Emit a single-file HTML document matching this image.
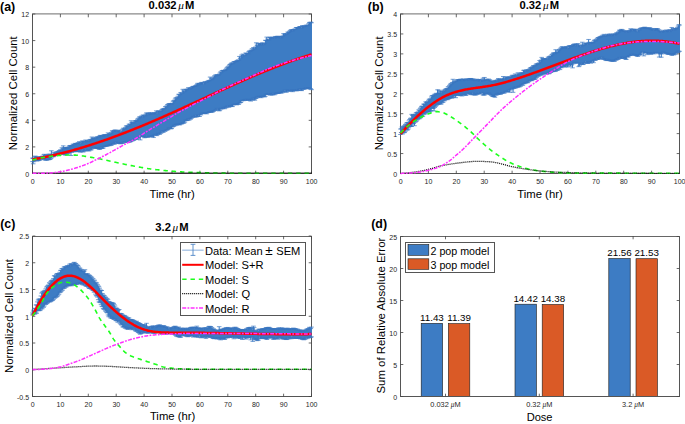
<!DOCTYPE html>
<html><head><meta charset="utf-8"><style>html,body{margin:0;padding:0;background:#fff;width:685px;height:424px;overflow:hidden}</style></head>
<body><svg width="685" height="424" viewBox="0 0 685 424" style="display:block">
<rect width="685" height="424" fill="#fff"/>
<g style='font-family:"Liberation Sans", sans-serif'>
<defs><clipPath id="ca"><rect x="29.6" y="13.5" width="285" height="162"/></clipPath><clipPath id="cb"><rect x="397.6" y="13.5" width="285" height="162"/></clipPath><clipPath id="cc"><rect x="29.6" y="235.5" width="285" height="163"/></clipPath></defs>
<path d="M32.5,174V14M32,173.5H312M311.5,174V14" stroke="#555" stroke-width="1" fill="none"/>
<path d="M32,13.9H312" stroke="#8a8a8a" stroke-width="1.3" fill="none"/>
<path d="M32.50,173.5v-2.8M32.50,14v3.3M60.40,173.5v-2.8M60.40,14v3.3M88.30,173.5v-2.8M88.30,14v3.3M116.20,173.5v-2.8M116.20,14v3.3M144.10,173.5v-2.8M144.10,14v3.3M172.00,173.5v-2.8M172.00,14v3.3M199.90,173.5v-2.8M199.90,14v3.3M227.80,173.5v-2.8M227.80,14v3.3M255.70,173.5v-2.8M255.70,14v3.3M283.60,173.5v-2.8M283.60,14v3.3M311.50,173.5v-2.8M311.50,14v3.3M32.5,173.50h2.8M311.5,173.50h-2.8M32.5,146.92h2.8M311.5,146.92h-2.8M32.5,120.33h2.8M311.5,120.33h-2.8M32.5,93.75h2.8M311.5,93.75h-2.8M32.5,67.17h2.8M311.5,67.17h-2.8M32.5,40.58h2.8M311.5,40.58h-2.8M32.5,14.00h2.8M311.5,14.00h-2.8" stroke="#444" stroke-width="0.8" fill="none"/>
<text x="32.60" y="184.10" font-size="7" text-anchor="middle" fill="#262626">0</text>
<text x="60.50" y="184.10" font-size="7" text-anchor="middle" fill="#262626">10</text>
<text x="88.40" y="184.10" font-size="7" text-anchor="middle" fill="#262626">20</text>
<text x="116.30" y="184.10" font-size="7" text-anchor="middle" fill="#262626">30</text>
<text x="144.20" y="184.10" font-size="7" text-anchor="middle" fill="#262626">40</text>
<text x="172.10" y="184.10" font-size="7" text-anchor="middle" fill="#262626">50</text>
<text x="200.00" y="184.10" font-size="7" text-anchor="middle" fill="#262626">60</text>
<text x="227.90" y="184.10" font-size="7" text-anchor="middle" fill="#262626">70</text>
<text x="255.80" y="184.10" font-size="7" text-anchor="middle" fill="#262626">80</text>
<text x="283.70" y="184.10" font-size="7" text-anchor="middle" fill="#262626">90</text>
<text x="311.60" y="184.10" font-size="7" text-anchor="middle" fill="#262626">100</text>
<text x="29.10" y="176.80" font-size="7" text-anchor="end" fill="#262626">0</text>
<text x="29.10" y="150.22" font-size="7" text-anchor="end" fill="#262626">2</text>
<text x="29.10" y="123.63" font-size="7" text-anchor="end" fill="#262626">4</text>
<text x="29.10" y="97.05" font-size="7" text-anchor="end" fill="#262626">6</text>
<text x="29.10" y="70.47" font-size="7" text-anchor="end" fill="#262626">8</text>
<text x="29.10" y="43.88" font-size="7" text-anchor="end" fill="#262626">10</text>
<text x="29.10" y="17.30" font-size="7" text-anchor="end" fill="#262626">12</text>
<g clip-path="url(#ca)">
<path d="M32.50,158.09V161.62M33.20,158.57V163.81M33.90,158.07V161.69M34.60,156.71V160.15M35.30,156.07V159.40M36.00,156.95V160.15M36.70,157.37V160.85M37.39,157.27V160.71M38.09,156.96V160.67M38.79,157.41V160.28M39.49,157.24V160.28M40.19,157.36V159.74M40.89,156.63V159.04M41.59,157.08V159.07M42.29,156.29V158.24M42.99,157.09V158.80M43.69,154.93V157.95M44.39,154.30V159.36M45.09,156.08V160.12M45.79,155.45V159.69M46.48,154.97V160.13M47.18,155.18V159.91M47.88,155.03V159.38M48.58,154.29V159.74M49.28,154.29V159.57M49.98,154.26V159.41M50.68,154.93V158.74M51.38,150.75V158.00M52.08,154.59V156.85M52.78,154.53V156.51M53.48,154.09V156.76M54.18,152.30V156.32M54.88,153.11V155.17M55.58,153.28V154.50M56.27,152.05V154.49M56.97,152.18V154.01M57.67,151.72V153.72M58.37,151.52V153.47M59.07,150.53V153.22M59.77,150.89V153.00M60.47,149.69V152.74M61.17,150.42V152.65M61.87,147.81V153.32M62.57,148.96V153.43M63.27,145.87V154.58M63.97,148.15V154.11M64.67,148.08V154.08M65.36,147.44V154.98M66.06,147.46V154.89M66.76,147.70V154.02M67.46,147.53V153.41M68.16,147.71V153.34M68.86,146.25V152.36M69.56,145.90V152.16M70.26,145.46V151.17M70.96,145.71V155.53M71.66,145.72V152.35M72.36,145.37V151.66M73.06,144.11V151.59M73.76,144.60V150.65M74.45,144.46V151.69M75.15,143.36V151.63M75.85,143.52V151.59M76.55,143.58V151.28M77.25,143.27V151.33M77.95,143.02V150.87M78.65,142.64V151.16M79.35,141.64V151.56M80.05,144.10V152.00M80.75,142.71V151.80M81.45,142.74V150.66M82.15,141.03V149.58M82.85,141.14V151.86M83.55,141.56V151.73M84.24,141.40V150.39M84.94,142.18V151.00M85.64,140.01V149.14M86.34,141.33V149.95M87.04,140.79V150.59M87.74,140.66V149.89M88.44,141.16V150.77M89.14,141.02V150.88M89.84,139.56V149.64M90.54,139.37V149.86M91.24,139.65V149.89M91.94,137.02V148.73M92.64,138.31V148.16M93.33,138.76V147.40M94.03,138.39V147.28M94.73,137.73V147.95M95.43,138.72V148.11M96.13,137.87V148.01M96.83,136.90V148.45M97.53,137.06V148.23M98.23,137.21V147.90M98.93,136.55V149.04M99.63,136.01V149.40M100.33,135.37V148.66M101.03,135.56V147.00M101.73,136.16V148.49M102.42,135.88V147.95M103.12,135.55V148.25M103.82,134.84V146.79M104.52,134.83V146.53M105.22,134.74V146.32M105.92,135.70V146.02M106.62,135.15V145.99M107.32,134.68V145.88M108.02,132.92V145.70M108.72,134.38V145.16M109.42,133.85V145.72M110.12,133.96V144.54M110.82,133.19V145.36M111.52,132.42V145.08M112.21,130.75V144.19M112.91,131.44V143.40M113.61,131.13V143.53M114.31,130.53V144.33M115.01,129.87V142.91M115.71,130.78V141.88M116.41,131.17V143.06M117.11,131.23V143.56M117.81,130.89V142.42M118.51,130.84V142.63M119.21,130.12V143.15M119.91,131.89V143.39M120.61,132.19V143.84M121.30,131.70V143.23M122.00,130.14V142.80M122.70,129.20V143.53M123.40,128.20V142.11M124.10,129.02V142.02M124.80,128.38V141.72M125.50,127.45V142.19M126.20,125.91V142.11M126.90,126.17V140.99M127.60,125.85V142.66M128.30,126.00V142.43M129.00,124.10V141.55M129.70,124.54V141.97M130.39,124.07V141.77M131.09,120.78V141.46M131.79,122.53V139.74M132.49,123.30V140.85M133.19,122.50V139.82M133.89,123.01V140.40M134.59,121.40V139.18M135.29,120.75V139.00M135.99,120.55V138.97M136.69,120.80V139.42M137.39,119.23V138.44M138.09,118.83V137.97M138.79,118.09V137.46M139.48,116.88V136.47M140.18,117.28V139.88M140.88,116.80V136.69M141.58,115.95V136.28M142.28,117.44V136.46M142.98,115.07V136.47M143.68,115.22V136.54M144.38,115.90V137.78M145.08,115.73V137.37M145.78,114.23V136.72M146.48,112.90V135.84M147.18,113.34V137.05M147.88,114.87V136.96M148.58,113.06V137.11M149.27,113.39V136.60M149.97,113.99V136.50M150.67,112.48V135.94M151.37,113.67V136.34M152.07,113.86V136.59M152.77,113.85V135.99M153.47,113.43V137.54M154.17,112.86V135.07M154.87,112.75V135.02M155.57,112.71V134.31M156.27,110.89V135.05M156.97,113.87V135.63M157.67,111.76V134.42M158.36,110.99V133.31M159.06,111.00V134.09M159.76,111.68V134.20M160.46,111.45V133.22M161.16,110.80V133.01M161.86,109.60V130.90M162.56,109.07V131.50M163.26,109.12V132.48M163.96,108.60V130.55M164.66,108.40V131.33M165.36,106.61V130.99M166.06,107.03V130.17M166.76,105.85V129.95M167.45,104.67V129.71M168.15,104.68V129.68M168.85,103.52V127.97M169.55,103.92V128.47M170.25,104.25V128.23M170.95,103.45V128.86M171.65,104.31V128.54M172.35,103.25V127.09M173.05,101.20V126.54M173.75,100.81V126.18M174.45,100.27V124.99M175.15,98.95V125.79M175.85,97.72V124.47M176.55,98.25V125.14M177.24,97.36V124.36M177.94,96.26V124.41M178.64,94.27V124.31M179.34,94.76V124.93M180.04,94.27V124.63M180.74,92.46V123.49M181.44,93.27V124.01M182.14,93.28V123.61M182.84,89.32V122.80M183.54,90.95V123.20M184.24,91.65V122.80M184.94,90.73V121.96M185.64,89.34V120.17M186.33,89.73V120.45M187.03,89.44V120.59M187.73,88.96V119.86M188.43,87.66V118.63M189.13,89.13V120.19M189.83,88.24V118.72M190.53,88.52V119.24M191.23,87.63V118.44M191.93,87.21V117.68M192.63,86.70V117.23M193.33,86.39V116.28M194.03,86.40V116.89M194.73,86.40V116.92M195.42,85.81V115.35M196.12,85.55V117.02M196.82,84.56V116.66M197.52,83.36V116.34M198.22,84.72V116.23M198.92,83.38V114.55M199.62,83.89V116.44M200.32,83.51V114.68M201.02,82.88V114.79M201.72,82.36V113.39M202.42,82.76V113.07M203.12,84.44V113.65M203.82,83.47V113.46M204.52,82.15V113.38M205.21,81.69V113.02M205.91,82.24V113.17M206.61,82.27V113.83M207.31,81.36V112.75M208.01,81.17V112.54M208.71,80.42V112.29M209.41,80.62V111.85M210.11,77.08V112.18M210.81,79.95V111.89M211.51,78.64V111.41M212.21,78.97V112.39M212.91,77.98V111.37M213.61,77.29V111.19M214.30,76.04V110.59M215.00,75.94V110.55M215.70,74.77V109.67M216.40,75.62V109.66M217.10,74.77V108.46M217.80,75.13V109.06M218.50,75.06V110.22M219.20,74.33V110.88M219.90,73.07V110.19M220.60,71.91V108.83M221.30,72.23V108.91M222.00,70.65V108.28M222.70,70.74V108.65M223.39,70.30V107.41M224.09,70.53V107.89M224.79,70.47V108.72M225.49,69.59V107.08M226.19,68.83V107.81M226.89,67.75V106.77M227.59,67.00V105.79M228.29,66.88V106.66M228.99,65.74V107.24M229.69,64.59V105.49M230.39,64.30V106.51M231.09,63.60V105.60M231.79,62.75V106.18M232.48,63.70V106.58M233.18,62.99V104.96M233.88,61.59V104.52M234.58,61.80V104.15M235.28,61.43V104.40M235.98,61.68V104.48M236.68,60.66V104.87M237.38,60.76V104.15M238.08,59.83V103.74M238.78,60.46V104.38M239.48,56.45V102.93M240.18,58.49V102.62M240.88,57.35V102.47M241.58,55.03V100.89M242.27,56.20V100.61M242.97,54.07V99.92M243.67,55.07V100.65M244.37,55.67V100.17M245.07,55.09V99.57M245.77,52.93V99.27M246.47,53.48V100.41M247.17,53.50V99.34M247.87,53.80V99.97M248.57,51.87V100.19M249.27,50.97V99.77M249.97,51.51V100.15M250.67,50.35V101.07M251.36,50.25V99.88M252.06,48.66V98.84M252.76,49.81V99.98M253.46,47.58V98.01M254.16,48.20V99.41M254.86,48.87V100.18M255.56,46.95V98.45M256.26,42.82V98.40M256.96,45.21V96.70M257.66,45.77V97.49M258.36,43.43V96.24M259.06,44.23V96.73M259.76,43.29V97.03M260.45,43.81V96.74M261.15,45.08V97.69M261.85,43.72V96.24M262.55,42.72V96.55M263.25,44.57V96.70M263.95,43.55V96.06M264.65,43.37V96.89M265.35,40.30V96.25M266.05,40.48V94.24M266.75,37.12V94.62M267.45,39.00V94.28M268.15,39.75V93.59M268.85,39.72V94.16M269.55,37.29V94.14M270.24,37.56V95.05M270.94,37.86V94.80M271.64,37.05V94.28M272.34,38.48V94.96M273.04,37.64V93.12M273.74,37.48V94.14M274.44,38.43V94.80M275.14,36.45V93.82M275.84,37.24V93.79M276.54,36.64V92.91M277.24,36.40V93.44M277.94,36.27V93.43M278.64,37.33V93.00M279.33,36.46V92.98M280.03,37.34V92.39M280.73,37.98V92.97M281.43,36.58V92.77M282.13,36.39V92.80M282.83,35.91V91.81M283.53,33.66V91.85M284.23,35.12V91.49M284.93,34.01V89.88M285.63,34.11V90.86M286.33,34.18V92.35M287.03,33.47V91.20M287.73,32.09V90.33M288.42,32.50V91.11M289.12,31.76V89.75M289.82,30.90V91.14M290.52,30.25V90.55M291.22,29.85V90.20M291.92,29.72V90.82M292.62,30.97V91.67M293.32,29.71V90.63M294.02,29.32V90.24M294.72,29.18V90.32M295.42,29.11V90.69M296.12,27.55V89.85M296.82,27.49V90.86M297.52,28.03V90.44M298.21,27.44V90.45M298.91,27.79V89.68M299.61,26.50V89.02M300.31,26.59V88.96M301.01,28.19V90.39M301.71,27.60V90.63M302.41,25.51V88.83M303.11,26.59V89.34M303.81,26.36V89.04M304.51,26.52V88.94M305.21,25.91V88.67M305.91,25.29V87.86M306.61,25.23V88.21M307.30,25.61V88.06M308.00,25.06V88.75M308.70,23.70V88.06M309.40,22.41V87.90M310.10,22.68V89.03M310.80,22.10V88.77M311.50,22.79V89.66" stroke="#3d7cc4" stroke-width="1.05" fill="none"/>
<path d="M30.20,158.09h4.6M30.20,161.62h4.6M30.90,158.57h4.6M30.90,163.81h4.6M31.60,158.07h4.6M31.60,161.69h4.6M32.30,156.71h4.6M32.30,160.15h4.6M33.00,156.07h4.6M33.00,159.40h4.6M33.70,156.95h4.6M33.70,160.15h4.6M34.40,157.37h4.6M34.40,160.85h4.6M35.09,157.27h4.6M35.09,160.71h4.6M35.79,156.96h4.6M35.79,160.67h4.6M36.49,157.41h4.6M36.49,160.28h4.6M37.19,157.24h4.6M37.19,160.28h4.6M37.89,157.36h4.6M37.89,159.74h4.6M38.59,156.63h4.6M38.59,159.04h4.6M39.29,157.08h4.6M39.29,159.07h4.6M39.99,156.29h4.6M39.99,158.24h4.6M40.69,157.09h4.6M40.69,158.80h4.6M41.39,154.93h4.6M41.39,157.95h4.6M42.09,154.30h4.6M42.09,159.36h4.6M42.79,156.08h4.6M42.79,160.12h4.6M43.49,155.45h4.6M43.49,159.69h4.6M44.18,154.97h4.6M44.18,160.13h4.6M44.88,155.18h4.6M44.88,159.91h4.6M45.58,155.03h4.6M45.58,159.38h4.6M46.28,154.29h4.6M46.28,159.74h4.6M46.98,154.29h4.6M46.98,159.57h4.6M47.68,154.26h4.6M47.68,159.41h4.6M48.38,154.93h4.6M48.38,158.74h4.6M49.08,150.75h4.6M49.08,158.00h4.6M49.78,154.59h4.6M49.78,156.85h4.6M50.48,154.53h4.6M50.48,156.51h4.6M51.18,154.09h4.6M51.18,156.76h4.6M51.88,152.30h4.6M51.88,156.32h4.6M52.58,153.11h4.6M52.58,155.17h4.6M53.28,153.28h4.6M53.28,154.50h4.6M53.97,152.05h4.6M53.97,154.49h4.6M54.67,152.18h4.6M54.67,154.01h4.6M55.37,151.72h4.6M55.37,153.72h4.6M56.07,151.52h4.6M56.07,153.47h4.6M56.77,150.53h4.6M56.77,153.22h4.6M57.47,150.89h4.6M57.47,153.00h4.6M58.17,149.69h4.6M58.17,152.74h4.6M58.87,150.42h4.6M58.87,152.65h4.6M59.57,147.81h4.6M59.57,153.32h4.6M60.27,148.96h4.6M60.27,153.43h4.6M60.97,145.87h4.6M60.97,154.58h4.6M61.67,148.15h4.6M61.67,154.11h4.6M62.37,148.08h4.6M62.37,154.08h4.6M63.06,147.44h4.6M63.06,154.98h4.6M63.76,147.46h4.6M63.76,154.89h4.6M64.46,147.70h4.6M64.46,154.02h4.6M65.16,147.53h4.6M65.16,153.41h4.6M65.86,147.71h4.6M65.86,153.34h4.6M66.56,146.25h4.6M66.56,152.36h4.6M67.26,145.90h4.6M67.26,152.16h4.6M67.96,145.46h4.6M67.96,151.17h4.6M68.66,145.71h4.6M68.66,155.53h4.6M69.36,145.72h4.6M69.36,152.35h4.6M70.06,145.37h4.6M70.06,151.66h4.6M70.76,144.11h4.6M70.76,151.59h4.6M71.46,144.60h4.6M71.46,150.65h4.6M72.15,144.46h4.6M72.15,151.69h4.6M72.85,143.36h4.6M72.85,151.63h4.6M73.55,143.52h4.6M73.55,151.59h4.6M74.25,143.58h4.6M74.25,151.28h4.6M74.95,143.27h4.6M74.95,151.33h4.6M75.65,143.02h4.6M75.65,150.87h4.6M76.35,142.64h4.6M76.35,151.16h4.6M77.05,141.64h4.6M77.05,151.56h4.6M77.75,144.10h4.6M77.75,152.00h4.6M78.45,142.71h4.6M78.45,151.80h4.6M79.15,142.74h4.6M79.15,150.66h4.6M79.85,141.03h4.6M79.85,149.58h4.6M80.55,141.14h4.6M80.55,151.86h4.6M81.25,141.56h4.6M81.25,151.73h4.6M81.94,141.40h4.6M81.94,150.39h4.6M82.64,142.18h4.6M82.64,151.00h4.6M83.34,140.01h4.6M83.34,149.14h4.6M84.04,141.33h4.6M84.04,149.95h4.6M84.74,140.79h4.6M84.74,150.59h4.6M85.44,140.66h4.6M85.44,149.89h4.6M86.14,141.16h4.6M86.14,150.77h4.6M86.84,141.02h4.6M86.84,150.88h4.6M87.54,139.56h4.6M87.54,149.64h4.6M88.24,139.37h4.6M88.24,149.86h4.6M88.94,139.65h4.6M88.94,149.89h4.6M89.64,137.02h4.6M89.64,148.73h4.6M90.34,138.31h4.6M90.34,148.16h4.6M91.03,138.76h4.6M91.03,147.40h4.6M91.73,138.39h4.6M91.73,147.28h4.6M92.43,137.73h4.6M92.43,147.95h4.6M93.13,138.72h4.6M93.13,148.11h4.6M93.83,137.87h4.6M93.83,148.01h4.6M94.53,136.90h4.6M94.53,148.45h4.6M95.23,137.06h4.6M95.23,148.23h4.6M95.93,137.21h4.6M95.93,147.90h4.6M96.63,136.55h4.6M96.63,149.04h4.6M97.33,136.01h4.6M97.33,149.40h4.6M98.03,135.37h4.6M98.03,148.66h4.6M98.73,135.56h4.6M98.73,147.00h4.6M99.43,136.16h4.6M99.43,148.49h4.6M100.12,135.88h4.6M100.12,147.95h4.6M100.82,135.55h4.6M100.82,148.25h4.6M101.52,134.84h4.6M101.52,146.79h4.6M102.22,134.83h4.6M102.22,146.53h4.6M102.92,134.74h4.6M102.92,146.32h4.6M103.62,135.70h4.6M103.62,146.02h4.6M104.32,135.15h4.6M104.32,145.99h4.6M105.02,134.68h4.6M105.02,145.88h4.6M105.72,132.92h4.6M105.72,145.70h4.6M106.42,134.38h4.6M106.42,145.16h4.6M107.12,133.85h4.6M107.12,145.72h4.6M107.82,133.96h4.6M107.82,144.54h4.6M108.52,133.19h4.6M108.52,145.36h4.6M109.22,132.42h4.6M109.22,145.08h4.6M109.91,130.75h4.6M109.91,144.19h4.6M110.61,131.44h4.6M110.61,143.40h4.6M111.31,131.13h4.6M111.31,143.53h4.6M112.01,130.53h4.6M112.01,144.33h4.6M112.71,129.87h4.6M112.71,142.91h4.6M113.41,130.78h4.6M113.41,141.88h4.6M114.11,131.17h4.6M114.11,143.06h4.6M114.81,131.23h4.6M114.81,143.56h4.6M115.51,130.89h4.6M115.51,142.42h4.6M116.21,130.84h4.6M116.21,142.63h4.6M116.91,130.12h4.6M116.91,143.15h4.6M117.61,131.89h4.6M117.61,143.39h4.6M118.31,132.19h4.6M118.31,143.84h4.6M119.00,131.70h4.6M119.00,143.23h4.6M119.70,130.14h4.6M119.70,142.80h4.6M120.40,129.20h4.6M120.40,143.53h4.6M121.10,128.20h4.6M121.10,142.11h4.6M121.80,129.02h4.6M121.80,142.02h4.6M122.50,128.38h4.6M122.50,141.72h4.6M123.20,127.45h4.6M123.20,142.19h4.6M123.90,125.91h4.6M123.90,142.11h4.6M124.60,126.17h4.6M124.60,140.99h4.6M125.30,125.85h4.6M125.30,142.66h4.6M126.00,126.00h4.6M126.00,142.43h4.6M126.70,124.10h4.6M126.70,141.55h4.6M127.40,124.54h4.6M127.40,141.97h4.6M128.09,124.07h4.6M128.09,141.77h4.6M128.79,120.78h4.6M128.79,141.46h4.6M129.49,122.53h4.6M129.49,139.74h4.6M130.19,123.30h4.6M130.19,140.85h4.6M130.89,122.50h4.6M130.89,139.82h4.6M131.59,123.01h4.6M131.59,140.40h4.6M132.29,121.40h4.6M132.29,139.18h4.6M132.99,120.75h4.6M132.99,139.00h4.6M133.69,120.55h4.6M133.69,138.97h4.6M134.39,120.80h4.6M134.39,139.42h4.6M135.09,119.23h4.6M135.09,138.44h4.6M135.79,118.83h4.6M135.79,137.97h4.6M136.49,118.09h4.6M136.49,137.46h4.6M137.18,116.88h4.6M137.18,136.47h4.6M137.88,117.28h4.6M137.88,139.88h4.6M138.58,116.80h4.6M138.58,136.69h4.6M139.28,115.95h4.6M139.28,136.28h4.6M139.98,117.44h4.6M139.98,136.46h4.6M140.68,115.07h4.6M140.68,136.47h4.6M141.38,115.22h4.6M141.38,136.54h4.6M142.08,115.90h4.6M142.08,137.78h4.6M142.78,115.73h4.6M142.78,137.37h4.6M143.48,114.23h4.6M143.48,136.72h4.6M144.18,112.90h4.6M144.18,135.84h4.6M144.88,113.34h4.6M144.88,137.05h4.6M145.58,114.87h4.6M145.58,136.96h4.6M146.28,113.06h4.6M146.28,137.11h4.6M146.97,113.39h4.6M146.97,136.60h4.6M147.67,113.99h4.6M147.67,136.50h4.6M148.37,112.48h4.6M148.37,135.94h4.6M149.07,113.67h4.6M149.07,136.34h4.6M149.77,113.86h4.6M149.77,136.59h4.6M150.47,113.85h4.6M150.47,135.99h4.6M151.17,113.43h4.6M151.17,137.54h4.6M151.87,112.86h4.6M151.87,135.07h4.6M152.57,112.75h4.6M152.57,135.02h4.6M153.27,112.71h4.6M153.27,134.31h4.6M153.97,110.89h4.6M153.97,135.05h4.6M154.67,113.87h4.6M154.67,135.63h4.6M155.37,111.76h4.6M155.37,134.42h4.6M156.06,110.99h4.6M156.06,133.31h4.6M156.76,111.00h4.6M156.76,134.09h4.6M157.46,111.68h4.6M157.46,134.20h4.6M158.16,111.45h4.6M158.16,133.22h4.6M158.86,110.80h4.6M158.86,133.01h4.6M159.56,109.60h4.6M159.56,130.90h4.6M160.26,109.07h4.6M160.26,131.50h4.6M160.96,109.12h4.6M160.96,132.48h4.6M161.66,108.60h4.6M161.66,130.55h4.6M162.36,108.40h4.6M162.36,131.33h4.6M163.06,106.61h4.6M163.06,130.99h4.6M163.76,107.03h4.6M163.76,130.17h4.6M164.46,105.85h4.6M164.46,129.95h4.6M165.15,104.67h4.6M165.15,129.71h4.6M165.85,104.68h4.6M165.85,129.68h4.6M166.55,103.52h4.6M166.55,127.97h4.6M167.25,103.92h4.6M167.25,128.47h4.6M167.95,104.25h4.6M167.95,128.23h4.6M168.65,103.45h4.6M168.65,128.86h4.6M169.35,104.31h4.6M169.35,128.54h4.6M170.05,103.25h4.6M170.05,127.09h4.6M170.75,101.20h4.6M170.75,126.54h4.6M171.45,100.81h4.6M171.45,126.18h4.6M172.15,100.27h4.6M172.15,124.99h4.6M172.85,98.95h4.6M172.85,125.79h4.6M173.55,97.72h4.6M173.55,124.47h4.6M174.25,98.25h4.6M174.25,125.14h4.6M174.94,97.36h4.6M174.94,124.36h4.6M175.64,96.26h4.6M175.64,124.41h4.6M176.34,94.27h4.6M176.34,124.31h4.6M177.04,94.76h4.6M177.04,124.93h4.6M177.74,94.27h4.6M177.74,124.63h4.6M178.44,92.46h4.6M178.44,123.49h4.6M179.14,93.27h4.6M179.14,124.01h4.6M179.84,93.28h4.6M179.84,123.61h4.6M180.54,89.32h4.6M180.54,122.80h4.6M181.24,90.95h4.6M181.24,123.20h4.6M181.94,91.65h4.6M181.94,122.80h4.6M182.64,90.73h4.6M182.64,121.96h4.6M183.34,89.34h4.6M183.34,120.17h4.6M184.03,89.73h4.6M184.03,120.45h4.6M184.73,89.44h4.6M184.73,120.59h4.6M185.43,88.96h4.6M185.43,119.86h4.6M186.13,87.66h4.6M186.13,118.63h4.6M186.83,89.13h4.6M186.83,120.19h4.6M187.53,88.24h4.6M187.53,118.72h4.6M188.23,88.52h4.6M188.23,119.24h4.6M188.93,87.63h4.6M188.93,118.44h4.6M189.63,87.21h4.6M189.63,117.68h4.6M190.33,86.70h4.6M190.33,117.23h4.6M191.03,86.39h4.6M191.03,116.28h4.6M191.73,86.40h4.6M191.73,116.89h4.6M192.43,86.40h4.6M192.43,116.92h4.6M193.12,85.81h4.6M193.12,115.35h4.6M193.82,85.55h4.6M193.82,117.02h4.6M194.52,84.56h4.6M194.52,116.66h4.6M195.22,83.36h4.6M195.22,116.34h4.6M195.92,84.72h4.6M195.92,116.23h4.6M196.62,83.38h4.6M196.62,114.55h4.6M197.32,83.89h4.6M197.32,116.44h4.6M198.02,83.51h4.6M198.02,114.68h4.6M198.72,82.88h4.6M198.72,114.79h4.6M199.42,82.36h4.6M199.42,113.39h4.6M200.12,82.76h4.6M200.12,113.07h4.6M200.82,84.44h4.6M200.82,113.65h4.6M201.52,83.47h4.6M201.52,113.46h4.6M202.22,82.15h4.6M202.22,113.38h4.6M202.91,81.69h4.6M202.91,113.02h4.6M203.61,82.24h4.6M203.61,113.17h4.6M204.31,82.27h4.6M204.31,113.83h4.6M205.01,81.36h4.6M205.01,112.75h4.6M205.71,81.17h4.6M205.71,112.54h4.6M206.41,80.42h4.6M206.41,112.29h4.6M207.11,80.62h4.6M207.11,111.85h4.6M207.81,77.08h4.6M207.81,112.18h4.6M208.51,79.95h4.6M208.51,111.89h4.6M209.21,78.64h4.6M209.21,111.41h4.6M209.91,78.97h4.6M209.91,112.39h4.6M210.61,77.98h4.6M210.61,111.37h4.6M211.31,77.29h4.6M211.31,111.19h4.6M212.00,76.04h4.6M212.00,110.59h4.6M212.70,75.94h4.6M212.70,110.55h4.6M213.40,74.77h4.6M213.40,109.67h4.6M214.10,75.62h4.6M214.10,109.66h4.6M214.80,74.77h4.6M214.80,108.46h4.6M215.50,75.13h4.6M215.50,109.06h4.6M216.20,75.06h4.6M216.20,110.22h4.6M216.90,74.33h4.6M216.90,110.88h4.6M217.60,73.07h4.6M217.60,110.19h4.6M218.30,71.91h4.6M218.30,108.83h4.6M219.00,72.23h4.6M219.00,108.91h4.6M219.70,70.65h4.6M219.70,108.28h4.6M220.40,70.74h4.6M220.40,108.65h4.6M221.09,70.30h4.6M221.09,107.41h4.6M221.79,70.53h4.6M221.79,107.89h4.6M222.49,70.47h4.6M222.49,108.72h4.6M223.19,69.59h4.6M223.19,107.08h4.6M223.89,68.83h4.6M223.89,107.81h4.6M224.59,67.75h4.6M224.59,106.77h4.6M225.29,67.00h4.6M225.29,105.79h4.6M225.99,66.88h4.6M225.99,106.66h4.6M226.69,65.74h4.6M226.69,107.24h4.6M227.39,64.59h4.6M227.39,105.49h4.6M228.09,64.30h4.6M228.09,106.51h4.6M228.79,63.60h4.6M228.79,105.60h4.6M229.49,62.75h4.6M229.49,106.18h4.6M230.18,63.70h4.6M230.18,106.58h4.6M230.88,62.99h4.6M230.88,104.96h4.6M231.58,61.59h4.6M231.58,104.52h4.6M232.28,61.80h4.6M232.28,104.15h4.6M232.98,61.43h4.6M232.98,104.40h4.6M233.68,61.68h4.6M233.68,104.48h4.6M234.38,60.66h4.6M234.38,104.87h4.6M235.08,60.76h4.6M235.08,104.15h4.6M235.78,59.83h4.6M235.78,103.74h4.6M236.48,60.46h4.6M236.48,104.38h4.6M237.18,56.45h4.6M237.18,102.93h4.6M237.88,58.49h4.6M237.88,102.62h4.6M238.58,57.35h4.6M238.58,102.47h4.6M239.28,55.03h4.6M239.28,100.89h4.6M239.97,56.20h4.6M239.97,100.61h4.6M240.67,54.07h4.6M240.67,99.92h4.6M241.37,55.07h4.6M241.37,100.65h4.6M242.07,55.67h4.6M242.07,100.17h4.6M242.77,55.09h4.6M242.77,99.57h4.6M243.47,52.93h4.6M243.47,99.27h4.6M244.17,53.48h4.6M244.17,100.41h4.6M244.87,53.50h4.6M244.87,99.34h4.6M245.57,53.80h4.6M245.57,99.97h4.6M246.27,51.87h4.6M246.27,100.19h4.6M246.97,50.97h4.6M246.97,99.77h4.6M247.67,51.51h4.6M247.67,100.15h4.6M248.37,50.35h4.6M248.37,101.07h4.6M249.06,50.25h4.6M249.06,99.88h4.6M249.76,48.66h4.6M249.76,98.84h4.6M250.46,49.81h4.6M250.46,99.98h4.6M251.16,47.58h4.6M251.16,98.01h4.6M251.86,48.20h4.6M251.86,99.41h4.6M252.56,48.87h4.6M252.56,100.18h4.6M253.26,46.95h4.6M253.26,98.45h4.6M253.96,42.82h4.6M253.96,98.40h4.6M254.66,45.21h4.6M254.66,96.70h4.6M255.36,45.77h4.6M255.36,97.49h4.6M256.06,43.43h4.6M256.06,96.24h4.6M256.76,44.23h4.6M256.76,96.73h4.6M257.46,43.29h4.6M257.46,97.03h4.6M258.15,43.81h4.6M258.15,96.74h4.6M258.85,45.08h4.6M258.85,97.69h4.6M259.55,43.72h4.6M259.55,96.24h4.6M260.25,42.72h4.6M260.25,96.55h4.6M260.95,44.57h4.6M260.95,96.70h4.6M261.65,43.55h4.6M261.65,96.06h4.6M262.35,43.37h4.6M262.35,96.89h4.6M263.05,40.30h4.6M263.05,96.25h4.6M263.75,40.48h4.6M263.75,94.24h4.6M264.45,37.12h4.6M264.45,94.62h4.6M265.15,39.00h4.6M265.15,94.28h4.6M265.85,39.75h4.6M265.85,93.59h4.6M266.55,39.72h4.6M266.55,94.16h4.6M267.25,37.29h4.6M267.25,94.14h4.6M267.94,37.56h4.6M267.94,95.05h4.6M268.64,37.86h4.6M268.64,94.80h4.6M269.34,37.05h4.6M269.34,94.28h4.6M270.04,38.48h4.6M270.04,94.96h4.6M270.74,37.64h4.6M270.74,93.12h4.6M271.44,37.48h4.6M271.44,94.14h4.6M272.14,38.43h4.6M272.14,94.80h4.6M272.84,36.45h4.6M272.84,93.82h4.6M273.54,37.24h4.6M273.54,93.79h4.6M274.24,36.64h4.6M274.24,92.91h4.6M274.94,36.40h4.6M274.94,93.44h4.6M275.64,36.27h4.6M275.64,93.43h4.6M276.34,37.33h4.6M276.34,93.00h4.6M277.03,36.46h4.6M277.03,92.98h4.6M277.73,37.34h4.6M277.73,92.39h4.6M278.43,37.98h4.6M278.43,92.97h4.6M279.13,36.58h4.6M279.13,92.77h4.6M279.83,36.39h4.6M279.83,92.80h4.6M280.53,35.91h4.6M280.53,91.81h4.6M281.23,33.66h4.6M281.23,91.85h4.6M281.93,35.12h4.6M281.93,91.49h4.6M282.63,34.01h4.6M282.63,89.88h4.6M283.33,34.11h4.6M283.33,90.86h4.6M284.03,34.18h4.6M284.03,92.35h4.6M284.73,33.47h4.6M284.73,91.20h4.6M285.43,32.09h4.6M285.43,90.33h4.6M286.12,32.50h4.6M286.12,91.11h4.6M286.82,31.76h4.6M286.82,89.75h4.6M287.52,30.90h4.6M287.52,91.14h4.6M288.22,30.25h4.6M288.22,90.55h4.6M288.92,29.85h4.6M288.92,90.20h4.6M289.62,29.72h4.6M289.62,90.82h4.6M290.32,30.97h4.6M290.32,91.67h4.6M291.02,29.71h4.6M291.02,90.63h4.6M291.72,29.32h4.6M291.72,90.24h4.6M292.42,29.18h4.6M292.42,90.32h4.6M293.12,29.11h4.6M293.12,90.69h4.6M293.82,27.55h4.6M293.82,89.85h4.6M294.52,27.49h4.6M294.52,90.86h4.6M295.22,28.03h4.6M295.22,90.44h4.6M295.91,27.44h4.6M295.91,90.45h4.6M296.61,27.79h4.6M296.61,89.68h4.6M297.31,26.50h4.6M297.31,89.02h4.6M298.01,26.59h4.6M298.01,88.96h4.6M298.71,28.19h4.6M298.71,90.39h4.6M299.41,27.60h4.6M299.41,90.63h4.6M300.11,25.51h4.6M300.11,88.83h4.6M300.81,26.59h4.6M300.81,89.34h4.6M301.51,26.36h4.6M301.51,89.04h4.6M302.21,26.52h4.6M302.21,88.94h4.6M302.91,25.91h4.6M302.91,88.67h4.6M303.61,25.29h4.6M303.61,87.86h4.6M304.31,25.23h4.6M304.31,88.21h4.6M305.00,25.61h4.6M305.00,88.06h4.6M305.70,25.06h4.6M305.70,88.75h4.6M306.40,23.70h4.6M306.40,88.06h4.6M307.10,22.41h4.6M307.10,87.90h4.6M307.80,22.68h4.6M307.80,89.03h4.6M308.50,22.10h4.6M308.50,88.77h4.6M309.20,22.79h4.6M309.20,89.66h4.6" stroke="#3a76c0" stroke-width="0.7" fill="none"/>
<polyline points="32.5,159.46 33.5,159.29 34.5,159.11 35.5,158.93 36.5,158.75 37.5,158.57 38.5,158.38 39.5,158.19 40.5,158.00 41.5,157.80 42.5,157.60 43.5,157.40 44.5,157.20 45.5,156.99 46.5,156.78 47.5,156.57 48.5,156.35 49.5,156.13 50.5,155.91 51.5,155.69 52.5,155.46 53.5,155.23 54.5,155.00 55.5,154.76 56.5,154.53 57.5,154.29 58.5,154.04 59.5,153.80 60.5,153.55 61.5,153.30 62.5,153.04 63.5,152.79 64.5,152.53 65.5,152.27 66.5,152.01 67.5,151.74 68.5,151.47 69.5,151.20 70.5,150.93 71.5,150.65 72.5,150.37 73.5,150.09 74.5,149.81 75.5,149.52 76.5,149.24 77.5,148.95 78.5,148.65 79.5,148.36 80.5,148.06 81.5,147.76 82.5,147.46 83.5,147.15 84.5,146.85 85.5,146.54 86.5,146.23 87.5,145.91 88.5,145.60 89.5,145.28 90.5,144.96 91.5,144.64 92.5,144.31 93.5,143.99 94.5,143.66 95.5,143.33 96.5,143.00 97.5,142.66 98.5,142.32 99.5,141.99 100.5,141.64 101.5,141.30 102.5,140.96 103.5,140.61 104.5,140.26 105.5,139.91 106.5,139.56 107.5,139.20 108.5,138.84 109.5,138.48 110.5,138.12 111.5,137.76 112.5,137.40 113.5,137.03 114.5,136.66 115.5,136.29 116.5,135.92 117.5,135.55 118.5,135.17 119.5,134.79 120.5,134.41 121.5,134.03 122.5,133.65 123.5,133.27 124.5,132.88 125.5,132.49 126.5,132.10 127.5,131.71 128.5,131.32 129.5,130.92 130.5,130.53 131.5,130.13 132.5,129.73 133.5,129.33 134.5,128.93 135.5,128.52 136.5,128.12 137.5,127.71 138.5,127.30 139.5,126.89 140.5,126.48 141.5,126.07 142.5,125.65 143.5,125.24 144.5,124.82 145.5,124.40 146.5,123.98 147.5,123.56 148.5,123.14 149.5,122.71 150.5,122.29 151.5,121.86 152.5,121.43 153.5,121.00 154.5,120.57 155.5,120.14 156.5,119.71 157.5,119.27 158.5,118.84 159.5,118.40 160.5,117.96 161.5,117.53 162.5,117.09 163.5,116.64 164.5,116.20 165.5,115.76 166.5,115.32 167.5,114.87 168.5,114.43 169.5,113.98 170.5,113.53 171.5,113.09 172.5,112.64 173.5,112.19 174.5,111.74 175.5,111.29 176.5,110.83 177.5,110.38 178.5,109.93 179.5,109.48 180.5,109.02 181.5,108.57 182.5,108.11 183.5,107.66 184.5,107.20 185.5,106.74 186.5,106.29 187.5,105.83 188.5,105.37 189.5,104.91 190.5,104.45 191.5,103.99 192.5,103.54 193.5,103.08 194.5,102.62 195.5,102.16 196.5,101.70 197.5,101.24 198.5,100.78 199.5,100.32 200.5,99.86 201.5,99.40 202.5,98.94 203.5,98.48 204.5,98.02 205.5,97.56 206.5,97.10 207.5,96.64 208.5,96.18 209.5,95.72 210.5,95.26 211.5,94.80 212.5,94.34 213.5,93.88 214.5,93.42 215.5,92.96 216.5,92.50 217.5,92.05 218.5,91.59 219.5,91.13 220.5,90.68 221.5,90.22 222.5,89.77 223.5,89.31 224.5,88.86 225.5,88.40 226.5,87.95 227.5,87.50 228.5,87.05 229.5,86.60 230.5,86.15 231.5,85.70 232.5,85.25 233.5,84.80 234.5,84.35 235.5,83.91 236.5,83.46 237.5,83.02 238.5,82.57 239.5,82.13 240.5,81.69 241.5,81.25 242.5,80.81 243.5,80.37 244.5,79.93 245.5,79.50 246.5,79.06 247.5,78.63 248.5,78.19 249.5,77.76 250.5,77.33 251.5,76.90 252.5,76.47 253.5,76.05 254.5,75.62 255.5,75.20 256.5,74.77 257.5,74.35 258.5,73.93 259.5,73.51 260.5,73.10 261.5,72.68 262.5,72.27 263.5,71.86 264.5,71.45 265.5,71.04 266.5,70.63 267.5,70.22 268.5,69.82 269.5,69.42 270.5,69.01 271.5,68.62 272.5,68.22 273.5,67.82 274.5,67.43 275.5,67.04 276.5,66.65 277.5,66.26 278.5,65.87 279.5,65.49 280.5,65.11 281.5,64.73 282.5,64.35 283.5,63.97 284.5,63.60 285.5,63.23 286.5,62.86 287.5,62.49 288.5,62.13 289.5,61.77 290.5,61.40 291.5,61.05 292.5,60.69 293.5,60.34 294.5,59.99 295.5,59.64 296.5,59.29 297.5,58.95 298.5,58.60 299.5,58.26 300.5,57.93 301.5,57.59 302.5,57.26 303.5,56.93 304.5,56.61 305.5,56.28 306.5,55.96 307.5,55.64 308.5,55.33 309.5,55.02 310.5,54.71 311.5,54.40" fill="none" stroke="#ff0000" stroke-width="2.5" stroke-linecap="butt" stroke-linejoin="round"/>
<polyline points="32.5,160.06 33.5,159.78 34.5,159.51 35.5,159.25 36.5,158.99 37.5,158.74 38.5,158.50 39.5,158.27 40.5,158.05 41.5,157.84 42.5,157.64 43.5,157.45 44.5,157.28 45.5,157.12 46.5,156.96 47.5,156.81 48.5,156.66 49.5,156.52 50.5,156.37 51.5,156.24 52.5,156.11 53.5,155.99 54.5,155.87 55.5,155.77 56.5,155.67 57.5,155.58 58.5,155.50 59.5,155.43 60.5,155.37 61.5,155.31 62.5,155.26 63.5,155.20 64.5,155.15 65.5,155.11 66.5,155.07 67.5,155.04 68.5,155.01 69.5,155.00 70.5,155.00 71.5,155.01 72.5,155.03 73.5,155.06 74.5,155.08 75.5,155.12 76.5,155.18 77.5,155.27 78.5,155.37 79.5,155.50 80.5,155.64 81.5,155.78 82.5,155.93 83.5,156.08 84.5,156.23 85.5,156.37 86.5,156.52 87.5,156.67 88.5,156.83 89.5,157.00 90.5,157.17 91.5,157.34 92.5,157.51 93.5,157.69 94.5,157.86 95.5,158.04 96.5,158.23 97.5,158.41 98.5,158.60 99.5,158.80 100.5,159.00 101.5,159.21 102.5,159.42 103.5,159.64 104.5,159.86 105.5,160.09 106.5,160.31 107.5,160.54 108.5,160.77 109.5,160.99 110.5,161.21 111.5,161.43 112.5,161.65 113.5,161.88 114.5,162.10 115.5,162.32 116.5,162.55 117.5,162.76 118.5,162.98 119.5,163.19 120.5,163.40 121.5,163.61 122.5,163.82 123.5,164.02 124.5,164.22 125.5,164.42 126.5,164.62 127.5,164.81 128.5,165.01 129.5,165.20 130.5,165.40 131.5,165.59 132.5,165.79 133.5,165.98 134.5,166.17 135.5,166.36 136.5,166.55 137.5,166.74 138.5,166.93 139.5,167.11 140.5,167.29 141.5,167.47 142.5,167.66 143.5,167.84 144.5,168.02 145.5,168.20 146.5,168.37 147.5,168.53 148.5,168.69 149.5,168.83 150.5,168.97 151.5,169.10 152.5,169.22 153.5,169.35 154.5,169.47 155.5,169.59 156.5,169.70 157.5,169.81 158.5,169.92 159.5,170.03 160.5,170.13 161.5,170.24 162.5,170.33 163.5,170.43 164.5,170.52 165.5,170.62 166.5,170.71 167.5,170.79 168.5,170.88 169.5,170.96 170.5,171.04 171.5,171.12 172.5,171.20 173.5,171.28 174.5,171.36 175.5,171.43 176.5,171.51 177.5,171.58 178.5,171.66 179.5,171.73 180.5,171.80 181.5,171.86 182.5,171.93 183.5,171.99 184.5,172.05 185.5,172.10 186.5,172.15 187.5,172.20 188.5,172.24 189.5,172.28 190.5,172.32 191.5,172.35 192.5,172.39 193.5,172.42 194.5,172.46 195.5,172.49 196.5,172.52 197.5,172.56 198.5,172.59 199.5,172.62 200.5,172.65 201.5,172.68 202.5,172.71 203.5,172.74 204.5,172.77 205.5,172.80 206.5,172.82 207.5,172.85 208.5,172.88 209.5,172.90 210.5,172.93 211.5,172.95 212.5,172.97 213.5,172.99 214.5,173.01 215.5,173.03 216.5,173.05 217.5,173.07 218.5,173.09 219.5,173.10 220.5,173.12 221.5,173.13 222.5,173.14 223.5,173.16 224.5,173.17 225.5,173.18 226.5,173.18 227.5,173.19 228.5,173.19 229.5,173.20 230.5,173.20 231.5,173.20 232.5,173.21 233.5,173.21 234.5,173.21 235.5,173.21 236.5,173.22 237.5,173.22 238.5,173.22 239.5,173.22 240.5,173.23 241.5,173.23 242.5,173.23 243.5,173.23 244.5,173.23 245.5,173.24 246.5,173.24 247.5,173.24 248.5,173.24 249.5,173.24 250.5,173.25 251.5,173.25 252.5,173.25 253.5,173.25 254.5,173.25 255.5,173.25 256.5,173.26 257.5,173.26 258.5,173.26 259.5,173.26 260.5,173.26 261.5,173.26 262.5,173.27 263.5,173.27 264.5,173.27 265.5,173.27 266.5,173.27 267.5,173.27 268.5,173.27 269.5,173.28 270.5,173.28 271.5,173.28 272.5,173.28 273.5,173.28 274.5,173.28 275.5,173.28 276.5,173.28 277.5,173.28 278.5,173.28 279.5,173.29 280.5,173.29 281.5,173.29 282.5,173.29 283.5,173.29 284.5,173.29 285.5,173.29 286.5,173.29 287.5,173.29 288.5,173.29 289.5,173.29 290.5,173.29 291.5,173.29 292.5,173.30 293.5,173.30 294.5,173.30 295.5,173.30 296.5,173.30 297.5,173.30 298.5,173.30 299.5,173.30 300.5,173.30 301.5,173.30 302.5,173.30 303.5,173.30 304.5,173.30 305.5,173.30 306.5,173.30 307.5,173.30 308.5,173.30 309.5,173.30 310.5,173.30 311.5,173.30" fill="none" stroke="#1cff1c" stroke-width="1.6" stroke-dasharray="4.4 3.9" stroke-linecap="butt" stroke-linejoin="round"/>
<polyline points="32.5,173.00 33.5,173.00 34.5,173.00 35.5,173.00 36.5,173.00 37.5,173.00 38.5,173.00 39.5,173.00 40.5,173.00 41.5,173.00 42.5,173.00 43.5,173.00 44.5,173.00 45.5,173.00 46.5,173.00 47.5,173.00 48.5,173.00 49.5,173.00 50.5,173.00 51.5,173.00 52.5,173.00 53.5,173.00 54.5,173.00 55.5,173.00 56.5,173.00 57.5,173.00 58.5,173.00 59.5,173.00 60.5,173.00 61.5,173.00 62.5,173.00 63.5,173.00 64.5,173.00 65.5,173.00 66.5,173.00 67.5,173.00 68.5,173.00 69.5,173.00 70.5,173.00 71.5,173.00 72.5,173.00 73.5,173.00 74.5,173.00 75.5,173.00 76.5,173.00 77.5,173.00 78.5,173.00 79.5,173.00 80.5,173.00 81.5,173.00 82.5,173.00 83.5,173.00 84.5,173.00 85.5,173.00 86.5,173.00 87.5,173.00 88.5,173.00 89.5,173.00 90.5,173.00 91.5,173.00 92.5,173.00 93.5,173.00 94.5,173.00 95.5,173.00 96.5,173.00 97.5,173.00 98.5,173.00 99.5,173.00 100.5,173.00 101.5,173.00 102.5,173.00 103.5,173.00 104.5,173.00 105.5,173.00 106.5,173.00 107.5,173.00 108.5,173.00 109.5,173.00 110.5,173.00 111.5,173.00 112.5,173.00 113.5,173.00 114.5,173.00 115.5,173.00 116.5,173.00 117.5,173.00 118.5,173.00 119.5,173.00 120.5,173.00 121.5,173.00 122.5,173.00 123.5,173.00 124.5,173.00 125.5,173.00 126.5,173.00 127.5,173.00 128.5,173.00 129.5,173.00 130.5,173.00 131.5,173.00 132.5,173.00 133.5,173.00 134.5,173.00 135.5,173.00 136.5,173.00 137.5,173.00 138.5,173.00 139.5,173.00 140.5,173.00 141.5,173.00 142.5,173.00 143.5,173.00 144.5,173.00 145.5,173.00 146.5,173.00 147.5,173.00 148.5,173.00 149.5,173.00 150.5,173.00 151.5,173.00 152.5,173.00 153.5,173.00 154.5,173.00 155.5,173.00 156.5,173.00 157.5,173.00 158.5,173.00 159.5,173.00 160.5,173.00 161.5,173.00 162.5,173.00 163.5,173.00 164.5,173.00 165.5,173.00 166.5,173.00 167.5,173.00 168.5,173.00 169.5,173.00 170.5,173.00 171.5,173.00 172.5,173.00 173.5,173.00 174.5,173.00 175.5,173.00 176.5,173.00 177.5,173.00 178.5,173.00 179.5,173.00 180.5,173.00 181.5,173.00 182.5,173.00 183.5,173.00 184.5,173.00 185.5,173.00 186.5,173.00 187.5,173.00 188.5,173.00 189.5,173.00 190.5,173.00 191.5,173.00 192.5,173.00 193.5,173.00 194.5,173.00 195.5,173.00 196.5,173.00 197.5,173.00 198.5,173.00 199.5,173.00 200.5,173.00 201.5,173.00 202.5,173.00 203.5,173.00 204.5,173.00 205.5,173.00 206.5,173.00 207.5,173.00 208.5,173.00 209.5,173.00 210.5,173.00 211.5,173.00 212.5,173.00 213.5,173.00 214.5,173.00 215.5,173.00 216.5,173.00 217.5,173.00 218.5,173.00 219.5,173.00 220.5,173.00 221.5,173.00 222.5,173.00 223.5,173.00 224.5,173.00 225.5,173.00 226.5,173.00 227.5,173.00 228.5,173.00 229.5,173.00 230.5,173.00 231.5,173.00 232.5,173.00 233.5,173.00 234.5,173.00 235.5,173.00 236.5,173.00 237.5,173.00 238.5,173.00 239.5,173.00 240.5,173.00 241.5,173.00 242.5,173.00 243.5,173.00 244.5,173.00 245.5,173.00 246.5,173.00 247.5,173.00 248.5,173.00 249.5,173.00 250.5,173.00 251.5,173.00 252.5,173.00 253.5,173.00 254.5,173.00 255.5,173.00 256.5,173.00 257.5,173.00 258.5,173.00 259.5,173.00 260.5,173.00 261.5,173.00 262.5,173.00 263.5,173.00 264.5,173.00 265.5,173.00 266.5,173.00 267.5,173.00 268.5,173.00 269.5,173.00 270.5,173.00 271.5,173.00 272.5,173.00 273.5,173.00 274.5,173.00 275.5,173.00 276.5,173.00 277.5,173.00 278.5,173.00 279.5,173.00 280.5,173.00 281.5,173.00 282.5,173.00 283.5,173.00 284.5,173.00 285.5,173.00 286.5,173.00 287.5,173.00 288.5,173.00 289.5,173.00 290.5,173.00 291.5,173.00 292.5,173.00 293.5,173.00 294.5,173.00 295.5,173.00 296.5,173.00 297.5,173.00 298.5,173.00 299.5,173.00 300.5,173.00 301.5,173.00 302.5,173.00 303.5,173.00 304.5,173.00 305.5,173.00 306.5,173.00 307.5,173.00 308.5,173.00 309.5,173.00 310.5,173.00 311.5,173.00" fill="none" stroke="#000000" stroke-width="1.3" stroke-dasharray="1 1" stroke-linecap="butt" stroke-linejoin="round"/>
<polyline points="32.5,173.30 33.5,173.30 34.5,173.29 35.5,173.29 36.5,173.28 37.5,173.27 38.5,173.26 39.5,173.24 40.5,173.23 41.5,173.21 42.5,173.19 43.5,173.17 44.5,173.15 45.5,173.13 46.5,173.10 47.5,173.07 48.5,173.05 49.5,173.02 50.5,172.98 51.5,172.92 52.5,172.84 53.5,172.74 54.5,172.62 55.5,172.49 56.5,172.34 57.5,172.19 58.5,172.04 59.5,171.88 60.5,171.72 61.5,171.55 62.5,171.36 63.5,171.15 64.5,170.94 65.5,170.71 66.5,170.47 67.5,170.23 68.5,169.98 69.5,169.73 70.5,169.47 71.5,169.21 72.5,168.93 73.5,168.65 74.5,168.36 75.5,168.05 76.5,167.74 77.5,167.43 78.5,167.10 79.5,166.77 80.5,166.43 81.5,166.08 82.5,165.72 83.5,165.35 84.5,164.97 85.5,164.59 86.5,164.19 87.5,163.78 88.5,163.35 89.5,162.92 90.5,162.47 91.5,161.99 92.5,161.48 93.5,160.96 94.5,160.45 95.5,159.96 96.5,159.48 97.5,159.00 98.5,158.53 99.5,158.05 100.5,157.55 101.5,157.05 102.5,156.54 103.5,156.03 104.5,155.52 105.5,154.99 106.5,154.47 107.5,153.94 108.5,153.41 109.5,152.87 110.5,152.33 111.5,151.77 112.5,151.21 113.5,150.64 114.5,150.08 115.5,149.52 116.5,148.97 117.5,148.41 118.5,147.86 119.5,147.31 120.5,146.76 121.5,146.21 122.5,145.67 123.5,145.12 124.5,144.57 125.5,144.03 126.5,143.49 127.5,142.96 128.5,142.43 129.5,141.90 130.5,141.38 131.5,140.84 132.5,140.30 133.5,139.75 134.5,139.19 135.5,138.61 136.5,138.02 137.5,137.41 138.5,136.80 139.5,136.18 140.5,135.54 141.5,134.91 142.5,134.27 143.5,133.62 144.5,132.98 145.5,132.34 146.5,131.70 147.5,131.06 148.5,130.43 149.5,129.81 150.5,129.19 151.5,128.58 152.5,127.98 153.5,127.37 154.5,126.77 155.5,126.17 156.5,125.57 157.5,124.97 158.5,124.37 159.5,123.78 160.5,123.18 161.5,122.58 162.5,121.99 163.5,121.39 164.5,120.80 165.5,120.20 166.5,119.60 167.5,119.00 168.5,118.39 169.5,117.79 170.5,117.18 171.5,116.58 172.5,115.98 173.5,115.38 174.5,114.78 175.5,114.19 176.5,113.60 177.5,113.02 178.5,112.45 179.5,111.88 180.5,111.32 181.5,110.77 182.5,110.23 183.5,109.70 184.5,109.17 185.5,108.65 186.5,108.13 187.5,107.60 188.5,107.08 189.5,106.56 190.5,106.04 191.5,105.51 192.5,104.99 193.5,104.46 194.5,103.94 195.5,103.42 196.5,102.90 197.5,102.38 198.5,101.87 199.5,101.36 200.5,100.85 201.5,100.34 202.5,99.84 203.5,99.35 204.5,98.85 205.5,98.36 206.5,97.86 207.5,97.37 208.5,96.86 209.5,96.36 210.5,95.84 211.5,95.32 212.5,94.79 213.5,94.25 214.5,93.71 215.5,93.17 216.5,92.64 217.5,92.10 218.5,91.58 219.5,91.06 220.5,90.55 221.5,90.04 222.5,89.54 223.5,89.04 224.5,88.55 225.5,88.05 226.5,87.57 227.5,87.09 228.5,86.61 229.5,86.14 230.5,85.67 231.5,85.20 232.5,84.74 233.5,84.28 234.5,83.82 235.5,83.37 236.5,82.92 237.5,82.47 238.5,82.03 239.5,81.58 240.5,81.14 241.5,80.70 242.5,80.26 243.5,79.82 244.5,79.39 245.5,78.95 246.5,78.52 247.5,78.08 248.5,77.65 249.5,77.21 250.5,76.78 251.5,76.35 252.5,75.91 253.5,75.47 254.5,75.04 255.5,74.60 256.5,74.16 257.5,73.72 258.5,73.28 259.5,72.83 260.5,72.38 261.5,71.92 262.5,71.46 263.5,71.01 264.5,70.55 265.5,70.10 266.5,69.66 267.5,69.23 268.5,68.81 269.5,68.40 270.5,68.00 271.5,67.61 272.5,67.23 273.5,66.85 274.5,66.47 275.5,66.10 276.5,65.73 277.5,65.36 278.5,65.00 279.5,64.65 280.5,64.30 281.5,63.95 282.5,63.61 283.5,63.27 284.5,62.94 285.5,62.61 286.5,62.29 287.5,61.97 288.5,61.66 289.5,61.35 290.5,61.05 291.5,60.75 292.5,60.45 293.5,60.16 294.5,59.87 295.5,59.58 296.5,59.29 297.5,59.01 298.5,58.74 299.5,58.46 300.5,58.19 301.5,57.93 302.5,57.66 303.5,57.41 304.5,57.15 305.5,56.90 306.5,56.65 307.5,56.41 308.5,56.17 309.5,55.94 310.5,55.71 311.5,55.49" fill="none" stroke="#ff30ff" stroke-width="1.5" stroke-dasharray="4 1.3 1.8 1.3" stroke-linecap="butt" stroke-linejoin="round"/>
</g>
<path d="M400.5,174V14M400,173.5H680M679.5,174V14" stroke="#555" stroke-width="1" fill="none"/>
<path d="M400,13.9H680" stroke="#8a8a8a" stroke-width="1.3" fill="none"/>
<path d="M400.50,173.5v-2.8M400.50,14v3.3M428.40,173.5v-2.8M428.40,14v3.3M456.30,173.5v-2.8M456.30,14v3.3M484.20,173.5v-2.8M484.20,14v3.3M512.10,173.5v-2.8M512.10,14v3.3M540.00,173.5v-2.8M540.00,14v3.3M567.90,173.5v-2.8M567.90,14v3.3M595.80,173.5v-2.8M595.80,14v3.3M623.70,173.5v-2.8M623.70,14v3.3M651.60,173.5v-2.8M651.60,14v3.3M679.50,173.5v-2.8M679.50,14v3.3M400.5,173.50h2.8M679.5,173.50h-2.8M400.5,153.56h2.8M679.5,153.56h-2.8M400.5,133.62h2.8M679.5,133.62h-2.8M400.5,113.69h2.8M679.5,113.69h-2.8M400.5,93.75h2.8M679.5,93.75h-2.8M400.5,73.81h2.8M679.5,73.81h-2.8M400.5,53.88h2.8M679.5,53.88h-2.8M400.5,33.94h2.8M679.5,33.94h-2.8M400.5,14.00h2.8M679.5,14.00h-2.8" stroke="#444" stroke-width="0.8" fill="none"/>
<text x="400.60" y="184.10" font-size="7" text-anchor="middle" fill="#262626">0</text>
<text x="428.50" y="184.10" font-size="7" text-anchor="middle" fill="#262626">10</text>
<text x="456.40" y="184.10" font-size="7" text-anchor="middle" fill="#262626">20</text>
<text x="484.30" y="184.10" font-size="7" text-anchor="middle" fill="#262626">30</text>
<text x="512.20" y="184.10" font-size="7" text-anchor="middle" fill="#262626">40</text>
<text x="540.10" y="184.10" font-size="7" text-anchor="middle" fill="#262626">50</text>
<text x="568.00" y="184.10" font-size="7" text-anchor="middle" fill="#262626">60</text>
<text x="595.90" y="184.10" font-size="7" text-anchor="middle" fill="#262626">70</text>
<text x="623.80" y="184.10" font-size="7" text-anchor="middle" fill="#262626">80</text>
<text x="651.70" y="184.10" font-size="7" text-anchor="middle" fill="#262626">90</text>
<text x="679.60" y="184.10" font-size="7" text-anchor="middle" fill="#262626">100</text>
<text x="397.10" y="176.80" font-size="7" text-anchor="end" fill="#262626">0</text>
<text x="397.10" y="156.86" font-size="7" text-anchor="end" fill="#262626">0.5</text>
<text x="397.10" y="136.93" font-size="7" text-anchor="end" fill="#262626">1</text>
<text x="397.10" y="116.99" font-size="7" text-anchor="end" fill="#262626">1.5</text>
<text x="397.10" y="97.05" font-size="7" text-anchor="end" fill="#262626">2</text>
<text x="397.10" y="77.11" font-size="7" text-anchor="end" fill="#262626">2.5</text>
<text x="397.10" y="57.17" font-size="7" text-anchor="end" fill="#262626">3</text>
<text x="397.10" y="37.24" font-size="7" text-anchor="end" fill="#262626">3.5</text>
<text x="397.10" y="17.30" font-size="7" text-anchor="end" fill="#262626">4</text>
<g clip-path="url(#cb)">
<path d="M400.50,129.02V134.50M401.20,128.82V132.50M401.90,126.98V132.42M402.60,127.22V133.99M403.30,126.35V132.84M404.00,126.18V132.25M404.70,125.41V132.60M405.39,124.54V131.30M406.09,123.88V129.70M406.79,122.74V129.92M407.49,122.57V129.95M408.19,122.57V129.13M408.89,120.89V127.74M409.59,119.50V126.45M410.29,118.67V125.58M410.99,118.01V126.42M411.69,114.33V126.42M412.39,115.57V124.13M413.09,114.72V123.74M413.79,115.96V123.53M414.48,114.91V125.69M415.18,114.52V122.39M415.88,113.11V121.38M416.58,112.59V120.93M417.28,112.47V119.86M417.98,111.81V119.19M418.68,109.89V118.07M419.38,110.28V118.75M420.08,108.67V118.04M420.78,107.71V117.44M421.48,106.40V116.61M422.18,106.18V116.19M422.88,106.39V116.16M423.58,104.09V114.11M424.27,104.47V114.06M424.97,103.86V113.82M425.67,101.80V112.83M426.37,102.58V112.80M427.07,102.09V111.82M427.77,101.80V111.54M428.47,100.35V111.78M429.17,99.20V111.61M429.87,99.37V111.82M430.57,98.67V110.89M431.27,97.01V110.44M431.97,95.70V107.97M432.67,95.62V108.24M433.36,95.91V108.51M434.06,94.93V111.01M434.76,94.21V107.53M435.46,94.34V106.56M436.16,93.31V105.64M436.86,93.85V104.91M437.56,89.80V104.35M438.26,93.24V104.18M438.96,90.18V104.03M439.66,93.02V103.13M440.36,91.10V103.55M441.06,93.62V104.24M441.76,91.69V102.80M442.45,91.22V102.03M443.15,91.90V102.32M443.85,90.06V100.67M444.55,90.91V100.75M445.25,89.32V99.75M445.95,89.16V98.90M446.65,88.56V99.11M447.35,88.46V99.70M448.05,86.88V99.11M448.75,86.77V98.64M449.45,85.57V98.43M450.15,84.61V97.47M450.85,83.45V97.66M451.55,84.06V98.09M452.24,82.53V97.81M452.94,79.29V97.31M453.64,82.28V96.67M454.34,81.81V95.40M455.04,81.16V95.32M455.74,80.90V97.70M456.44,81.09V95.23M457.14,79.94V94.93M457.84,79.54V95.22M458.54,80.16V94.49M459.24,79.70V94.29M459.94,79.61V95.60M460.64,79.11V95.40M461.33,79.98V94.77M462.03,80.72V95.95M462.73,79.22V94.29M463.43,79.06V94.18M464.13,79.79V94.61M464.83,79.68V94.79M465.53,79.99V95.36M466.23,79.17V95.07M466.93,80.14V93.22M467.63,78.67V93.04M468.33,79.44V93.88M469.03,79.93V93.82M469.73,78.88V93.39M470.42,78.48V93.83M471.12,78.53V94.33M471.82,79.44V94.79M472.52,78.96V92.75M473.22,79.92V94.07M473.92,79.16V94.81M474.62,80.12V94.72M475.32,80.06V94.92M476.02,80.66V94.87M476.72,79.26V94.12M477.42,80.42V93.78M478.12,80.14V93.95M478.82,79.43V92.85M479.52,79.72V93.54M480.21,81.49V93.92M480.91,79.74V92.54M481.61,79.99V92.39M482.31,80.66V92.95M483.01,78.24V95.09M483.71,80.58V94.78M484.41,77.46V95.10M485.11,80.05V93.86M485.81,79.92V93.60M486.51,79.22V93.20M487.21,79.74V94.05M487.91,80.51V93.72M488.61,79.04V93.13M489.30,80.09V93.42M490.00,79.83V94.57M490.70,81.21V94.68M491.40,80.98V95.33M492.10,81.14V95.90M492.80,81.69V96.52M493.50,81.46V96.60M494.20,81.57V96.30M494.90,80.74V97.25M495.60,80.31V94.82M496.30,80.86V95.20M497.00,81.33V93.85M497.70,79.64V94.48M498.39,78.51V93.95M499.09,79.39V92.84M499.79,79.36V93.91M500.49,79.58V94.34M501.19,80.12V93.57M501.89,79.21V93.22M502.59,78.76V92.51M503.29,76.54V93.08M503.99,78.68V92.93M504.69,79.58V92.76M505.39,78.07V91.41M506.09,77.36V91.82M506.79,76.85V91.33M507.48,77.74V91.45M508.18,77.41V91.72M508.88,77.23V90.11M509.58,76.99V92.19M510.28,77.32V89.99M510.98,76.93V89.15M511.68,76.00V88.57M512.38,75.25V88.90M513.08,76.19V92.32M513.78,75.35V88.36M514.48,75.70V88.17M515.18,73.95V86.84M515.88,75.16V87.96M516.58,75.70V86.75M517.27,75.01V87.26M517.97,72.84V87.03M518.67,74.34V86.42M519.37,74.54V86.95M520.07,73.80V85.94M520.77,73.41V86.14M521.47,72.92V84.96M522.17,72.80V84.30M522.87,72.65V85.32M523.57,70.35V83.57M524.27,70.21V83.78M524.97,71.31V82.98M525.67,71.31V82.93M526.36,69.92V82.32M527.06,70.60V82.76M527.76,69.74V82.65M528.46,69.74V81.72M529.16,70.24V81.29M529.86,68.37V80.15M530.56,67.82V80.19M531.26,67.44V80.42M531.96,67.79V80.69M532.66,66.57V79.68M533.36,65.63V78.84M534.06,66.13V79.53M534.76,65.58V79.21M535.45,65.24V78.73M536.15,64.10V77.69M536.85,64.03V77.20M537.55,63.86V75.85M538.25,63.57V76.19M538.95,62.85V75.86M539.65,60.50V74.98M540.35,61.68V75.10M541.05,60.03V74.63M541.75,57.40V74.95M542.45,58.73V74.27M543.15,59.18V73.54M543.85,59.00V73.16M544.55,58.58V73.53M545.24,58.85V73.76M545.94,58.64V72.81M546.64,58.99V74.12M547.34,59.22V73.60M548.04,57.14V72.40M548.74,57.45V73.78M549.44,56.49V73.55M550.14,56.16V72.07M550.84,56.29V72.51M551.54,54.97V71.60M552.24,54.54V71.71M552.94,53.51V71.33M553.64,52.65V70.06M554.33,53.78V71.56M555.03,52.87V70.75M555.73,49.70V71.19M556.43,52.52V70.10M557.13,51.15V70.38M557.83,52.33V69.99M558.53,50.53V68.53M559.23,49.57V67.99M559.93,49.14V69.58M560.63,48.14V67.38M561.33,47.96V67.75M562.03,46.61V66.32M562.73,47.97V66.88M563.42,47.24V66.02M564.12,47.53V65.44M564.82,47.67V66.80M565.52,47.51V66.74M566.22,46.48V65.25M566.92,46.72V65.44M567.62,48.53V66.98M568.32,47.70V64.70M569.02,45.83V64.05M569.72,45.85V64.48M570.42,46.13V66.25M571.12,46.15V65.08M571.82,45.79V64.72M572.52,45.60V67.84M573.21,44.58V63.80M573.91,44.35V63.04M574.61,43.98V62.52M575.31,45.38V62.94M576.01,44.11V62.19M576.71,44.27V62.90M577.41,46.25V62.95M578.11,43.63V63.06M578.81,45.07V66.66M579.51,45.56V65.77M580.21,46.23V64.29M580.91,46.81V63.74M581.61,45.10V63.13M582.30,42.23V64.32M583.00,45.60V64.55M583.70,45.00V63.95M584.40,44.55V62.79M585.10,43.47V63.02M585.80,43.05V61.34M586.50,43.52V62.38M587.20,44.41V63.21M587.90,42.89V63.46M588.60,39.46V62.20M589.30,42.29V62.47M590.00,43.63V61.96M590.70,42.86V63.12M591.39,42.55V62.03M592.09,42.81V60.88M592.79,42.72V61.19M593.49,41.84V62.68M594.19,40.60V60.00M594.89,39.80V60.31M595.59,40.85V60.12M596.29,39.78V58.26M596.99,38.70V59.42M597.69,37.95V58.73M598.39,37.53V59.44M599.09,37.65V58.81M599.79,36.73V58.10M600.48,36.92V58.78M601.18,36.33V57.36M601.88,36.20V57.22M602.58,35.28V58.57M603.28,36.31V59.36M603.98,34.36V58.84M604.68,35.99V59.40M605.38,36.05V59.89M606.08,35.72V60.55M606.78,35.20V59.15M607.48,34.29V60.54M608.18,35.05V60.24M608.88,35.06V60.51M609.58,34.16V60.58M610.27,35.35V60.84M610.97,34.08V59.95M611.67,35.69V61.42M612.37,34.91V60.69M613.07,34.37V60.46M613.77,34.09V61.10M614.47,35.20V61.33M615.17,33.83V60.22M615.87,34.03V59.81M616.57,32.72V59.92M617.27,33.44V58.85M617.97,32.41V59.49M618.67,31.60V58.79M619.36,30.17V57.57M620.06,30.52V57.33M620.76,30.10V58.23M621.46,29.37V58.40M622.16,30.04V58.02M622.86,30.09V57.08M623.56,30.89V58.26M624.26,31.13V58.22M624.96,31.21V58.39M625.66,31.32V59.22M626.36,32.26V59.37M627.06,31.24V56.99M627.76,30.74V56.69M628.45,31.76V56.91M629.15,31.23V55.55M629.85,30.48V55.47M630.55,28.94V55.55M631.25,29.13V54.12M631.95,30.18V54.87M632.65,30.73V54.64M633.35,29.18V55.07M634.05,29.44V54.40M634.75,29.96V54.71M635.45,29.31V55.53M636.15,30.21V55.69M636.85,31.46V55.22M637.55,31.87V56.43M638.24,30.12V55.91M638.94,29.20V55.15M639.64,29.94V54.57M640.34,28.50V54.63M641.04,28.00V53.94M641.74,28.27V52.84M642.44,28.13V51.79M643.14,27.83V51.71M643.84,27.84V55.89M644.54,27.22V52.92M645.24,27.41V52.41M645.94,28.41V52.66M646.64,27.86V52.69M647.33,28.49V54.62M648.03,28.52V53.31M648.73,28.25V53.02M649.43,27.70V53.31M650.13,28.08V53.91M650.83,29.34V54.21M651.53,28.87V53.22M652.23,29.69V53.69M652.93,28.47V52.65M653.63,30.49V52.93M654.33,30.05V53.87M655.03,29.50V52.75M655.73,28.57V52.14M656.42,29.62V52.62M657.12,28.59V52.56M657.82,28.91V52.71M658.52,29.90V53.27M659.22,30.09V57.06M659.92,31.03V53.97M660.62,31.63V53.52M661.32,32.22V57.21M662.02,31.80V53.92M662.72,31.51V52.34M663.42,30.31V51.93M664.12,31.24V52.63M664.82,31.10V52.72M665.52,31.78V53.23M666.21,30.13V53.65M666.91,30.92V52.93M667.61,30.29V54.19M668.31,30.65V54.02M669.01,29.93V54.15M669.71,31.52V53.98M670.41,29.75V54.20M671.11,30.43V53.82M671.81,27.48V55.44M672.51,29.25V54.20M673.21,28.63V54.48M673.91,30.30V54.91M674.61,29.03V54.06M675.30,28.54V53.99M676.00,28.47V53.02M676.70,28.45V52.61M677.40,27.46V51.89M678.10,26.07V52.51M678.80,24.75V51.19M679.50,25.06V51.34" stroke="#3d7cc4" stroke-width="1.05" fill="none"/>
<path d="M398.20,129.02h4.6M398.20,134.50h4.6M398.90,128.82h4.6M398.90,132.50h4.6M399.60,126.98h4.6M399.60,132.42h4.6M400.30,127.22h4.6M400.30,133.99h4.6M401.00,126.35h4.6M401.00,132.84h4.6M401.70,126.18h4.6M401.70,132.25h4.6M402.40,125.41h4.6M402.40,132.60h4.6M403.09,124.54h4.6M403.09,131.30h4.6M403.79,123.88h4.6M403.79,129.70h4.6M404.49,122.74h4.6M404.49,129.92h4.6M405.19,122.57h4.6M405.19,129.95h4.6M405.89,122.57h4.6M405.89,129.13h4.6M406.59,120.89h4.6M406.59,127.74h4.6M407.29,119.50h4.6M407.29,126.45h4.6M407.99,118.67h4.6M407.99,125.58h4.6M408.69,118.01h4.6M408.69,126.42h4.6M409.39,114.33h4.6M409.39,126.42h4.6M410.09,115.57h4.6M410.09,124.13h4.6M410.79,114.72h4.6M410.79,123.74h4.6M411.49,115.96h4.6M411.49,123.53h4.6M412.18,114.91h4.6M412.18,125.69h4.6M412.88,114.52h4.6M412.88,122.39h4.6M413.58,113.11h4.6M413.58,121.38h4.6M414.28,112.59h4.6M414.28,120.93h4.6M414.98,112.47h4.6M414.98,119.86h4.6M415.68,111.81h4.6M415.68,119.19h4.6M416.38,109.89h4.6M416.38,118.07h4.6M417.08,110.28h4.6M417.08,118.75h4.6M417.78,108.67h4.6M417.78,118.04h4.6M418.48,107.71h4.6M418.48,117.44h4.6M419.18,106.40h4.6M419.18,116.61h4.6M419.88,106.18h4.6M419.88,116.19h4.6M420.58,106.39h4.6M420.58,116.16h4.6M421.28,104.09h4.6M421.28,114.11h4.6M421.97,104.47h4.6M421.97,114.06h4.6M422.67,103.86h4.6M422.67,113.82h4.6M423.37,101.80h4.6M423.37,112.83h4.6M424.07,102.58h4.6M424.07,112.80h4.6M424.77,102.09h4.6M424.77,111.82h4.6M425.47,101.80h4.6M425.47,111.54h4.6M426.17,100.35h4.6M426.17,111.78h4.6M426.87,99.20h4.6M426.87,111.61h4.6M427.57,99.37h4.6M427.57,111.82h4.6M428.27,98.67h4.6M428.27,110.89h4.6M428.97,97.01h4.6M428.97,110.44h4.6M429.67,95.70h4.6M429.67,107.97h4.6M430.37,95.62h4.6M430.37,108.24h4.6M431.06,95.91h4.6M431.06,108.51h4.6M431.76,94.93h4.6M431.76,111.01h4.6M432.46,94.21h4.6M432.46,107.53h4.6M433.16,94.34h4.6M433.16,106.56h4.6M433.86,93.31h4.6M433.86,105.64h4.6M434.56,93.85h4.6M434.56,104.91h4.6M435.26,89.80h4.6M435.26,104.35h4.6M435.96,93.24h4.6M435.96,104.18h4.6M436.66,90.18h4.6M436.66,104.03h4.6M437.36,93.02h4.6M437.36,103.13h4.6M438.06,91.10h4.6M438.06,103.55h4.6M438.76,93.62h4.6M438.76,104.24h4.6M439.46,91.69h4.6M439.46,102.80h4.6M440.15,91.22h4.6M440.15,102.03h4.6M440.85,91.90h4.6M440.85,102.32h4.6M441.55,90.06h4.6M441.55,100.67h4.6M442.25,90.91h4.6M442.25,100.75h4.6M442.95,89.32h4.6M442.95,99.75h4.6M443.65,89.16h4.6M443.65,98.90h4.6M444.35,88.56h4.6M444.35,99.11h4.6M445.05,88.46h4.6M445.05,99.70h4.6M445.75,86.88h4.6M445.75,99.11h4.6M446.45,86.77h4.6M446.45,98.64h4.6M447.15,85.57h4.6M447.15,98.43h4.6M447.85,84.61h4.6M447.85,97.47h4.6M448.55,83.45h4.6M448.55,97.66h4.6M449.25,84.06h4.6M449.25,98.09h4.6M449.94,82.53h4.6M449.94,97.81h4.6M450.64,79.29h4.6M450.64,97.31h4.6M451.34,82.28h4.6M451.34,96.67h4.6M452.04,81.81h4.6M452.04,95.40h4.6M452.74,81.16h4.6M452.74,95.32h4.6M453.44,80.90h4.6M453.44,97.70h4.6M454.14,81.09h4.6M454.14,95.23h4.6M454.84,79.94h4.6M454.84,94.93h4.6M455.54,79.54h4.6M455.54,95.22h4.6M456.24,80.16h4.6M456.24,94.49h4.6M456.94,79.70h4.6M456.94,94.29h4.6M457.64,79.61h4.6M457.64,95.60h4.6M458.34,79.11h4.6M458.34,95.40h4.6M459.03,79.98h4.6M459.03,94.77h4.6M459.73,80.72h4.6M459.73,95.95h4.6M460.43,79.22h4.6M460.43,94.29h4.6M461.13,79.06h4.6M461.13,94.18h4.6M461.83,79.79h4.6M461.83,94.61h4.6M462.53,79.68h4.6M462.53,94.79h4.6M463.23,79.99h4.6M463.23,95.36h4.6M463.93,79.17h4.6M463.93,95.07h4.6M464.63,80.14h4.6M464.63,93.22h4.6M465.33,78.67h4.6M465.33,93.04h4.6M466.03,79.44h4.6M466.03,93.88h4.6M466.73,79.93h4.6M466.73,93.82h4.6M467.43,78.88h4.6M467.43,93.39h4.6M468.12,78.48h4.6M468.12,93.83h4.6M468.82,78.53h4.6M468.82,94.33h4.6M469.52,79.44h4.6M469.52,94.79h4.6M470.22,78.96h4.6M470.22,92.75h4.6M470.92,79.92h4.6M470.92,94.07h4.6M471.62,79.16h4.6M471.62,94.81h4.6M472.32,80.12h4.6M472.32,94.72h4.6M473.02,80.06h4.6M473.02,94.92h4.6M473.72,80.66h4.6M473.72,94.87h4.6M474.42,79.26h4.6M474.42,94.12h4.6M475.12,80.42h4.6M475.12,93.78h4.6M475.82,80.14h4.6M475.82,93.95h4.6M476.52,79.43h4.6M476.52,92.85h4.6M477.22,79.72h4.6M477.22,93.54h4.6M477.91,81.49h4.6M477.91,93.92h4.6M478.61,79.74h4.6M478.61,92.54h4.6M479.31,79.99h4.6M479.31,92.39h4.6M480.01,80.66h4.6M480.01,92.95h4.6M480.71,78.24h4.6M480.71,95.09h4.6M481.41,80.58h4.6M481.41,94.78h4.6M482.11,77.46h4.6M482.11,95.10h4.6M482.81,80.05h4.6M482.81,93.86h4.6M483.51,79.92h4.6M483.51,93.60h4.6M484.21,79.22h4.6M484.21,93.20h4.6M484.91,79.74h4.6M484.91,94.05h4.6M485.61,80.51h4.6M485.61,93.72h4.6M486.31,79.04h4.6M486.31,93.13h4.6M487.00,80.09h4.6M487.00,93.42h4.6M487.70,79.83h4.6M487.70,94.57h4.6M488.40,81.21h4.6M488.40,94.68h4.6M489.10,80.98h4.6M489.10,95.33h4.6M489.80,81.14h4.6M489.80,95.90h4.6M490.50,81.69h4.6M490.50,96.52h4.6M491.20,81.46h4.6M491.20,96.60h4.6M491.90,81.57h4.6M491.90,96.30h4.6M492.60,80.74h4.6M492.60,97.25h4.6M493.30,80.31h4.6M493.30,94.82h4.6M494.00,80.86h4.6M494.00,95.20h4.6M494.70,81.33h4.6M494.70,93.85h4.6M495.40,79.64h4.6M495.40,94.48h4.6M496.09,78.51h4.6M496.09,93.95h4.6M496.79,79.39h4.6M496.79,92.84h4.6M497.49,79.36h4.6M497.49,93.91h4.6M498.19,79.58h4.6M498.19,94.34h4.6M498.89,80.12h4.6M498.89,93.57h4.6M499.59,79.21h4.6M499.59,93.22h4.6M500.29,78.76h4.6M500.29,92.51h4.6M500.99,76.54h4.6M500.99,93.08h4.6M501.69,78.68h4.6M501.69,92.93h4.6M502.39,79.58h4.6M502.39,92.76h4.6M503.09,78.07h4.6M503.09,91.41h4.6M503.79,77.36h4.6M503.79,91.82h4.6M504.49,76.85h4.6M504.49,91.33h4.6M505.18,77.74h4.6M505.18,91.45h4.6M505.88,77.41h4.6M505.88,91.72h4.6M506.58,77.23h4.6M506.58,90.11h4.6M507.28,76.99h4.6M507.28,92.19h4.6M507.98,77.32h4.6M507.98,89.99h4.6M508.68,76.93h4.6M508.68,89.15h4.6M509.38,76.00h4.6M509.38,88.57h4.6M510.08,75.25h4.6M510.08,88.90h4.6M510.78,76.19h4.6M510.78,92.32h4.6M511.48,75.35h4.6M511.48,88.36h4.6M512.18,75.70h4.6M512.18,88.17h4.6M512.88,73.95h4.6M512.88,86.84h4.6M513.58,75.16h4.6M513.58,87.96h4.6M514.28,75.70h4.6M514.28,86.75h4.6M514.97,75.01h4.6M514.97,87.26h4.6M515.67,72.84h4.6M515.67,87.03h4.6M516.37,74.34h4.6M516.37,86.42h4.6M517.07,74.54h4.6M517.07,86.95h4.6M517.77,73.80h4.6M517.77,85.94h4.6M518.47,73.41h4.6M518.47,86.14h4.6M519.17,72.92h4.6M519.17,84.96h4.6M519.87,72.80h4.6M519.87,84.30h4.6M520.57,72.65h4.6M520.57,85.32h4.6M521.27,70.35h4.6M521.27,83.57h4.6M521.97,70.21h4.6M521.97,83.78h4.6M522.67,71.31h4.6M522.67,82.98h4.6M523.37,71.31h4.6M523.37,82.93h4.6M524.06,69.92h4.6M524.06,82.32h4.6M524.76,70.60h4.6M524.76,82.76h4.6M525.46,69.74h4.6M525.46,82.65h4.6M526.16,69.74h4.6M526.16,81.72h4.6M526.86,70.24h4.6M526.86,81.29h4.6M527.56,68.37h4.6M527.56,80.15h4.6M528.26,67.82h4.6M528.26,80.19h4.6M528.96,67.44h4.6M528.96,80.42h4.6M529.66,67.79h4.6M529.66,80.69h4.6M530.36,66.57h4.6M530.36,79.68h4.6M531.06,65.63h4.6M531.06,78.84h4.6M531.76,66.13h4.6M531.76,79.53h4.6M532.46,65.58h4.6M532.46,79.21h4.6M533.15,65.24h4.6M533.15,78.73h4.6M533.85,64.10h4.6M533.85,77.69h4.6M534.55,64.03h4.6M534.55,77.20h4.6M535.25,63.86h4.6M535.25,75.85h4.6M535.95,63.57h4.6M535.95,76.19h4.6M536.65,62.85h4.6M536.65,75.86h4.6M537.35,60.50h4.6M537.35,74.98h4.6M538.05,61.68h4.6M538.05,75.10h4.6M538.75,60.03h4.6M538.75,74.63h4.6M539.45,57.40h4.6M539.45,74.95h4.6M540.15,58.73h4.6M540.15,74.27h4.6M540.85,59.18h4.6M540.85,73.54h4.6M541.55,59.00h4.6M541.55,73.16h4.6M542.25,58.58h4.6M542.25,73.53h4.6M542.94,58.85h4.6M542.94,73.76h4.6M543.64,58.64h4.6M543.64,72.81h4.6M544.34,58.99h4.6M544.34,74.12h4.6M545.04,59.22h4.6M545.04,73.60h4.6M545.74,57.14h4.6M545.74,72.40h4.6M546.44,57.45h4.6M546.44,73.78h4.6M547.14,56.49h4.6M547.14,73.55h4.6M547.84,56.16h4.6M547.84,72.07h4.6M548.54,56.29h4.6M548.54,72.51h4.6M549.24,54.97h4.6M549.24,71.60h4.6M549.94,54.54h4.6M549.94,71.71h4.6M550.64,53.51h4.6M550.64,71.33h4.6M551.34,52.65h4.6M551.34,70.06h4.6M552.03,53.78h4.6M552.03,71.56h4.6M552.73,52.87h4.6M552.73,70.75h4.6M553.43,49.70h4.6M553.43,71.19h4.6M554.13,52.52h4.6M554.13,70.10h4.6M554.83,51.15h4.6M554.83,70.38h4.6M555.53,52.33h4.6M555.53,69.99h4.6M556.23,50.53h4.6M556.23,68.53h4.6M556.93,49.57h4.6M556.93,67.99h4.6M557.63,49.14h4.6M557.63,69.58h4.6M558.33,48.14h4.6M558.33,67.38h4.6M559.03,47.96h4.6M559.03,67.75h4.6M559.73,46.61h4.6M559.73,66.32h4.6M560.43,47.97h4.6M560.43,66.88h4.6M561.12,47.24h4.6M561.12,66.02h4.6M561.82,47.53h4.6M561.82,65.44h4.6M562.52,47.67h4.6M562.52,66.80h4.6M563.22,47.51h4.6M563.22,66.74h4.6M563.92,46.48h4.6M563.92,65.25h4.6M564.62,46.72h4.6M564.62,65.44h4.6M565.32,48.53h4.6M565.32,66.98h4.6M566.02,47.70h4.6M566.02,64.70h4.6M566.72,45.83h4.6M566.72,64.05h4.6M567.42,45.85h4.6M567.42,64.48h4.6M568.12,46.13h4.6M568.12,66.25h4.6M568.82,46.15h4.6M568.82,65.08h4.6M569.52,45.79h4.6M569.52,64.72h4.6M570.22,45.60h4.6M570.22,67.84h4.6M570.91,44.58h4.6M570.91,63.80h4.6M571.61,44.35h4.6M571.61,63.04h4.6M572.31,43.98h4.6M572.31,62.52h4.6M573.01,45.38h4.6M573.01,62.94h4.6M573.71,44.11h4.6M573.71,62.19h4.6M574.41,44.27h4.6M574.41,62.90h4.6M575.11,46.25h4.6M575.11,62.95h4.6M575.81,43.63h4.6M575.81,63.06h4.6M576.51,45.07h4.6M576.51,66.66h4.6M577.21,45.56h4.6M577.21,65.77h4.6M577.91,46.23h4.6M577.91,64.29h4.6M578.61,46.81h4.6M578.61,63.74h4.6M579.31,45.10h4.6M579.31,63.13h4.6M580.00,42.23h4.6M580.00,64.32h4.6M580.70,45.60h4.6M580.70,64.55h4.6M581.40,45.00h4.6M581.40,63.95h4.6M582.10,44.55h4.6M582.10,62.79h4.6M582.80,43.47h4.6M582.80,63.02h4.6M583.50,43.05h4.6M583.50,61.34h4.6M584.20,43.52h4.6M584.20,62.38h4.6M584.90,44.41h4.6M584.90,63.21h4.6M585.60,42.89h4.6M585.60,63.46h4.6M586.30,39.46h4.6M586.30,62.20h4.6M587.00,42.29h4.6M587.00,62.47h4.6M587.70,43.63h4.6M587.70,61.96h4.6M588.40,42.86h4.6M588.40,63.12h4.6M589.09,42.55h4.6M589.09,62.03h4.6M589.79,42.81h4.6M589.79,60.88h4.6M590.49,42.72h4.6M590.49,61.19h4.6M591.19,41.84h4.6M591.19,62.68h4.6M591.89,40.60h4.6M591.89,60.00h4.6M592.59,39.80h4.6M592.59,60.31h4.6M593.29,40.85h4.6M593.29,60.12h4.6M593.99,39.78h4.6M593.99,58.26h4.6M594.69,38.70h4.6M594.69,59.42h4.6M595.39,37.95h4.6M595.39,58.73h4.6M596.09,37.53h4.6M596.09,59.44h4.6M596.79,37.65h4.6M596.79,58.81h4.6M597.49,36.73h4.6M597.49,58.10h4.6M598.18,36.92h4.6M598.18,58.78h4.6M598.88,36.33h4.6M598.88,57.36h4.6M599.58,36.20h4.6M599.58,57.22h4.6M600.28,35.28h4.6M600.28,58.57h4.6M600.98,36.31h4.6M600.98,59.36h4.6M601.68,34.36h4.6M601.68,58.84h4.6M602.38,35.99h4.6M602.38,59.40h4.6M603.08,36.05h4.6M603.08,59.89h4.6M603.78,35.72h4.6M603.78,60.55h4.6M604.48,35.20h4.6M604.48,59.15h4.6M605.18,34.29h4.6M605.18,60.54h4.6M605.88,35.05h4.6M605.88,60.24h4.6M606.58,35.06h4.6M606.58,60.51h4.6M607.28,34.16h4.6M607.28,60.58h4.6M607.97,35.35h4.6M607.97,60.84h4.6M608.67,34.08h4.6M608.67,59.95h4.6M609.37,35.69h4.6M609.37,61.42h4.6M610.07,34.91h4.6M610.07,60.69h4.6M610.77,34.37h4.6M610.77,60.46h4.6M611.47,34.09h4.6M611.47,61.10h4.6M612.17,35.20h4.6M612.17,61.33h4.6M612.87,33.83h4.6M612.87,60.22h4.6M613.57,34.03h4.6M613.57,59.81h4.6M614.27,32.72h4.6M614.27,59.92h4.6M614.97,33.44h4.6M614.97,58.85h4.6M615.67,32.41h4.6M615.67,59.49h4.6M616.37,31.60h4.6M616.37,58.79h4.6M617.06,30.17h4.6M617.06,57.57h4.6M617.76,30.52h4.6M617.76,57.33h4.6M618.46,30.10h4.6M618.46,58.23h4.6M619.16,29.37h4.6M619.16,58.40h4.6M619.86,30.04h4.6M619.86,58.02h4.6M620.56,30.09h4.6M620.56,57.08h4.6M621.26,30.89h4.6M621.26,58.26h4.6M621.96,31.13h4.6M621.96,58.22h4.6M622.66,31.21h4.6M622.66,58.39h4.6M623.36,31.32h4.6M623.36,59.22h4.6M624.06,32.26h4.6M624.06,59.37h4.6M624.76,31.24h4.6M624.76,56.99h4.6M625.46,30.74h4.6M625.46,56.69h4.6M626.15,31.76h4.6M626.15,56.91h4.6M626.85,31.23h4.6M626.85,55.55h4.6M627.55,30.48h4.6M627.55,55.47h4.6M628.25,28.94h4.6M628.25,55.55h4.6M628.95,29.13h4.6M628.95,54.12h4.6M629.65,30.18h4.6M629.65,54.87h4.6M630.35,30.73h4.6M630.35,54.64h4.6M631.05,29.18h4.6M631.05,55.07h4.6M631.75,29.44h4.6M631.75,54.40h4.6M632.45,29.96h4.6M632.45,54.71h4.6M633.15,29.31h4.6M633.15,55.53h4.6M633.85,30.21h4.6M633.85,55.69h4.6M634.55,31.46h4.6M634.55,55.22h4.6M635.25,31.87h4.6M635.25,56.43h4.6M635.94,30.12h4.6M635.94,55.91h4.6M636.64,29.20h4.6M636.64,55.15h4.6M637.34,29.94h4.6M637.34,54.57h4.6M638.04,28.50h4.6M638.04,54.63h4.6M638.74,28.00h4.6M638.74,53.94h4.6M639.44,28.27h4.6M639.44,52.84h4.6M640.14,28.13h4.6M640.14,51.79h4.6M640.84,27.83h4.6M640.84,51.71h4.6M641.54,27.84h4.6M641.54,55.89h4.6M642.24,27.22h4.6M642.24,52.92h4.6M642.94,27.41h4.6M642.94,52.41h4.6M643.64,28.41h4.6M643.64,52.66h4.6M644.34,27.86h4.6M644.34,52.69h4.6M645.03,28.49h4.6M645.03,54.62h4.6M645.73,28.52h4.6M645.73,53.31h4.6M646.43,28.25h4.6M646.43,53.02h4.6M647.13,27.70h4.6M647.13,53.31h4.6M647.83,28.08h4.6M647.83,53.91h4.6M648.53,29.34h4.6M648.53,54.21h4.6M649.23,28.87h4.6M649.23,53.22h4.6M649.93,29.69h4.6M649.93,53.69h4.6M650.63,28.47h4.6M650.63,52.65h4.6M651.33,30.49h4.6M651.33,52.93h4.6M652.03,30.05h4.6M652.03,53.87h4.6M652.73,29.50h4.6M652.73,52.75h4.6M653.43,28.57h4.6M653.43,52.14h4.6M654.12,29.62h4.6M654.12,52.62h4.6M654.82,28.59h4.6M654.82,52.56h4.6M655.52,28.91h4.6M655.52,52.71h4.6M656.22,29.90h4.6M656.22,53.27h4.6M656.92,30.09h4.6M656.92,57.06h4.6M657.62,31.03h4.6M657.62,53.97h4.6M658.32,31.63h4.6M658.32,53.52h4.6M659.02,32.22h4.6M659.02,57.21h4.6M659.72,31.80h4.6M659.72,53.92h4.6M660.42,31.51h4.6M660.42,52.34h4.6M661.12,30.31h4.6M661.12,51.93h4.6M661.82,31.24h4.6M661.82,52.63h4.6M662.52,31.10h4.6M662.52,52.72h4.6M663.22,31.78h4.6M663.22,53.23h4.6M663.91,30.13h4.6M663.91,53.65h4.6M664.61,30.92h4.6M664.61,52.93h4.6M665.31,30.29h4.6M665.31,54.19h4.6M666.01,30.65h4.6M666.01,54.02h4.6M666.71,29.93h4.6M666.71,54.15h4.6M667.41,31.52h4.6M667.41,53.98h4.6M668.11,29.75h4.6M668.11,54.20h4.6M668.81,30.43h4.6M668.81,53.82h4.6M669.51,27.48h4.6M669.51,55.44h4.6M670.21,29.25h4.6M670.21,54.20h4.6M670.91,28.63h4.6M670.91,54.48h4.6M671.61,30.30h4.6M671.61,54.91h4.6M672.31,29.03h4.6M672.31,54.06h4.6M673.00,28.54h4.6M673.00,53.99h4.6M673.70,28.47h4.6M673.70,53.02h4.6M674.40,28.45h4.6M674.40,52.61h4.6M675.10,27.46h4.6M675.10,51.89h4.6M675.80,26.07h4.6M675.80,52.51h4.6M676.50,24.75h4.6M676.50,51.19h4.6M677.20,25.06h4.6M677.20,51.34h4.6" stroke="#3a76c0" stroke-width="0.7" fill="none"/>
<polyline points="400.5,133.80 401.5,132.68 402.5,131.57 403.5,130.46 404.5,129.37 405.5,128.29 406.5,127.22 407.5,126.16 408.5,125.11 409.5,124.08 410.5,123.05 411.5,122.03 412.5,121.03 413.5,120.04 414.5,119.06 415.5,118.09 416.5,117.14 417.5,116.20 418.5,115.27 419.5,114.36 420.5,113.46 421.5,112.57 422.5,111.69 423.5,110.83 424.5,109.99 425.5,109.16 426.5,108.34 427.5,107.54 428.5,106.76 429.5,105.99 430.5,105.23 431.5,104.49 432.5,103.77 433.5,103.06 434.5,102.37 435.5,101.70 436.5,101.04 437.5,100.40 438.5,99.78 439.5,99.18 440.5,98.59 441.5,98.02 442.5,97.47 443.5,96.94 444.5,96.43 445.5,95.94 446.5,95.46 447.5,95.01 448.5,94.57 449.5,94.15 450.5,93.75 451.5,93.37 452.5,93.01 453.5,92.67 454.5,92.34 455.5,92.02 456.5,91.72 457.5,91.44 458.5,91.16 459.5,90.90 460.5,90.66 461.5,90.42 462.5,90.20 463.5,89.98 464.5,89.78 465.5,89.58 466.5,89.39 467.5,89.21 468.5,89.04 469.5,88.88 470.5,88.71 471.5,88.56 472.5,88.41 473.5,88.26 474.5,88.12 475.5,87.97 476.5,87.83 477.5,87.70 478.5,87.56 479.5,87.42 480.5,87.28 481.5,87.14 482.5,87.00 483.5,86.85 484.5,86.70 485.5,86.55 486.5,86.39 487.5,86.23 488.5,86.06 489.5,85.88 490.5,85.70 491.5,85.51 492.5,85.32 493.5,85.11 494.5,84.90 495.5,84.68 496.5,84.46 497.5,84.23 498.5,83.99 499.5,83.75 500.5,83.50 501.5,83.24 502.5,82.98 503.5,82.72 504.5,82.44 505.5,82.17 506.5,81.89 507.5,81.60 508.5,81.31 509.5,81.02 510.5,80.72 511.5,80.42 512.5,80.11 513.5,79.80 514.5,79.49 515.5,79.17 516.5,78.85 517.5,78.53 518.5,78.21 519.5,77.88 520.5,77.55 521.5,77.22 522.5,76.88 523.5,76.54 524.5,76.20 525.5,75.86 526.5,75.51 527.5,75.16 528.5,74.81 529.5,74.46 530.5,74.11 531.5,73.75 532.5,73.39 533.5,73.04 534.5,72.67 535.5,72.31 536.5,71.95 537.5,71.58 538.5,71.21 539.5,70.85 540.5,70.48 541.5,70.11 542.5,69.74 543.5,69.36 544.5,68.99 545.5,68.62 546.5,68.24 547.5,67.87 548.5,67.49 549.5,67.11 550.5,66.74 551.5,66.36 552.5,65.98 553.5,65.60 554.5,65.23 555.5,64.85 556.5,64.47 557.5,64.09 558.5,63.72 559.5,63.34 560.5,62.96 561.5,62.59 562.5,62.21 563.5,61.84 564.5,61.46 565.5,61.09 566.5,60.72 567.5,60.35 568.5,59.98 569.5,59.61 570.5,59.24 571.5,58.87 572.5,58.51 573.5,58.14 574.5,57.78 575.5,57.42 576.5,57.06 577.5,56.70 578.5,56.35 579.5,55.99 580.5,55.64 581.5,55.29 582.5,54.94 583.5,54.60 584.5,54.26 585.5,53.92 586.5,53.58 587.5,53.24 588.5,52.91 589.5,52.58 590.5,52.25 591.5,51.93 592.5,51.60 593.5,51.29 594.5,50.97 595.5,50.66 596.5,50.35 597.5,50.04 598.5,49.74 599.5,49.44 600.5,49.15 601.5,48.85 602.5,48.57 603.5,48.28 604.5,48.00 605.5,47.73 606.5,47.45 607.5,47.18 608.5,46.92 609.5,46.66 610.5,46.41 611.5,46.15 612.5,45.91 613.5,45.67 614.5,45.43 615.5,45.20 616.5,44.97 617.5,44.75 618.5,44.53 619.5,44.32 620.5,44.11 621.5,43.91 622.5,43.71 623.5,43.52 624.5,43.33 625.5,43.15 626.5,42.98 627.5,42.81 628.5,42.65 629.5,42.49 630.5,42.34 631.5,42.19 632.5,42.05 633.5,41.92 634.5,41.79 635.5,41.67 636.5,41.56 637.5,41.45 638.5,41.35 639.5,41.25 640.5,41.17 641.5,41.08 642.5,41.01 643.5,40.94 644.5,40.88 645.5,40.83 646.5,40.79 647.5,40.75 648.5,40.72 649.5,40.69 650.5,40.68 651.5,40.67 652.5,40.67 653.5,40.67 654.5,40.69 655.5,40.71 656.5,40.74 657.5,40.78 658.5,40.83 659.5,40.89 660.5,40.95 661.5,41.02 662.5,41.10 663.5,41.19 664.5,41.29 665.5,41.39 666.5,41.51 667.5,41.63 668.5,41.77 669.5,41.91 670.5,42.06 671.5,42.22 672.5,42.39 673.5,42.57 674.5,42.76 675.5,42.96 676.5,43.16 677.5,43.38 678.5,43.61 679.5,43.85" fill="none" stroke="#ff0000" stroke-width="2.5" stroke-linecap="butt" stroke-linejoin="round"/>
<polyline points="400.5,133.07 401.5,132.03 402.5,131.01 403.5,130.02 404.5,129.06 405.5,128.12 406.5,127.21 407.5,126.34 408.5,125.50 409.5,124.69 410.5,123.92 411.5,123.16 412.5,122.43 413.5,121.72 414.5,121.03 415.5,120.37 416.5,119.73 417.5,119.11 418.5,118.53 419.5,117.97 420.5,117.44 421.5,116.93 422.5,116.43 423.5,115.95 424.5,115.49 425.5,115.04 426.5,114.62 427.5,114.22 428.5,113.83 429.5,113.47 430.5,113.12 431.5,112.75 432.5,112.37 433.5,112.03 434.5,111.77 435.5,111.62 436.5,111.61 437.5,111.67 438.5,111.78 439.5,111.93 440.5,112.10 441.5,112.30 442.5,112.52 443.5,112.83 444.5,113.24 445.5,113.73 446.5,114.27 447.5,114.84 448.5,115.43 449.5,116.02 450.5,116.58 451.5,117.18 452.5,117.79 453.5,118.44 454.5,119.10 455.5,119.78 456.5,120.48 457.5,121.19 458.5,121.91 459.5,122.64 460.5,123.37 461.5,124.11 462.5,124.86 463.5,125.63 464.5,126.42 465.5,127.22 466.5,128.03 467.5,128.86 468.5,129.70 469.5,130.56 470.5,131.44 471.5,132.36 472.5,133.32 473.5,134.30 474.5,135.30 475.5,136.30 476.5,137.31 477.5,138.31 478.5,139.28 479.5,140.24 480.5,141.16 481.5,142.07 482.5,142.98 483.5,143.88 484.5,144.77 485.5,145.65 486.5,146.51 487.5,147.36 488.5,148.19 489.5,149.00 490.5,149.79 491.5,150.57 492.5,151.33 493.5,152.07 494.5,152.81 495.5,153.52 496.5,154.23 497.5,154.92 498.5,155.60 499.5,156.27 500.5,156.93 501.5,157.59 502.5,158.24 503.5,158.89 504.5,159.53 505.5,160.15 506.5,160.75 507.5,161.32 508.5,161.86 509.5,162.36 510.5,162.83 511.5,163.28 512.5,163.72 513.5,164.15 514.5,164.57 515.5,164.97 516.5,165.36 517.5,165.74 518.5,166.11 519.5,166.46 520.5,166.79 521.5,167.11 522.5,167.41 523.5,167.70 524.5,167.97 525.5,168.23 526.5,168.47 527.5,168.71 528.5,168.95 529.5,169.18 530.5,169.39 531.5,169.61 532.5,169.81 533.5,170.00 534.5,170.18 535.5,170.36 536.5,170.52 537.5,170.67 538.5,170.81 539.5,170.94 540.5,171.06 541.5,171.17 542.5,171.28 543.5,171.39 544.5,171.49 545.5,171.59 546.5,171.68 547.5,171.78 548.5,171.87 549.5,171.95 550.5,172.03 551.5,172.11 552.5,172.19 553.5,172.25 554.5,172.32 555.5,172.38 556.5,172.44 557.5,172.49 558.5,172.54 559.5,172.58 560.5,172.62 561.5,172.66 562.5,172.69 563.5,172.73 564.5,172.77 565.5,172.80 566.5,172.83 567.5,172.87 568.5,172.90 569.5,172.93 570.5,172.95 571.5,172.98 572.5,173.00 573.5,173.02 574.5,173.04 575.5,173.06 576.5,173.07 577.5,173.08 578.5,173.09 579.5,173.10 580.5,173.10 581.5,173.10 582.5,173.11 583.5,173.11 584.5,173.11 585.5,173.11 586.5,173.12 587.5,173.12 588.5,173.12 589.5,173.12 590.5,173.12 591.5,173.13 592.5,173.13 593.5,173.13 594.5,173.13 595.5,173.13 596.5,173.14 597.5,173.14 598.5,173.14 599.5,173.14 600.5,173.14 601.5,173.14 602.5,173.15 603.5,173.15 604.5,173.15 605.5,173.15 606.5,173.15 607.5,173.15 608.5,173.16 609.5,173.16 610.5,173.16 611.5,173.16 612.5,173.16 613.5,173.16 614.5,173.16 615.5,173.16 616.5,173.17 617.5,173.17 618.5,173.17 619.5,173.17 620.5,173.17 621.5,173.17 622.5,173.17 623.5,173.17 624.5,173.18 625.5,173.18 626.5,173.18 627.5,173.18 628.5,173.18 629.5,173.18 630.5,173.18 631.5,173.18 632.5,173.18 633.5,173.18 634.5,173.18 635.5,173.19 636.5,173.19 637.5,173.19 638.5,173.19 639.5,173.19 640.5,173.19 641.5,173.19 642.5,173.19 643.5,173.19 644.5,173.19 645.5,173.19 646.5,173.19 647.5,173.19 648.5,173.19 649.5,173.19 650.5,173.19 651.5,173.19 652.5,173.20 653.5,173.20 654.5,173.20 655.5,173.20 656.5,173.20 657.5,173.20 658.5,173.20 659.5,173.20 660.5,173.20 661.5,173.20 662.5,173.20 663.5,173.20 664.5,173.20 665.5,173.20 666.5,173.20 667.5,173.20 668.5,173.20 669.5,173.20 670.5,173.20 671.5,173.20 672.5,173.20 673.5,173.20 674.5,173.20 675.5,173.20 676.5,173.20 677.5,173.20 678.5,173.20 679.5,173.20" fill="none" stroke="#1cff1c" stroke-width="1.6" stroke-dasharray="4.4 3.9" stroke-linecap="butt" stroke-linejoin="round"/>
<polyline points="400.5,173.37 401.5,173.32 402.5,173.25 403.5,173.18 404.5,173.11 405.5,173.02 406.5,172.94 407.5,172.84 408.5,172.75 409.5,172.65 410.5,172.55 411.5,172.44 412.5,172.32 413.5,172.19 414.5,172.06 415.5,171.91 416.5,171.77 417.5,171.61 418.5,171.45 419.5,171.28 420.5,171.11 421.5,170.93 422.5,170.73 423.5,170.53 424.5,170.31 425.5,170.09 426.5,169.85 427.5,169.62 428.5,169.37 429.5,169.12 430.5,168.87 431.5,168.60 432.5,168.30 433.5,168.00 434.5,167.68 435.5,167.37 436.5,167.06 437.5,166.76 438.5,166.48 439.5,166.22 440.5,165.99 441.5,165.77 442.5,165.56 443.5,165.35 444.5,165.16 445.5,164.97 446.5,164.79 447.5,164.62 448.5,164.45 449.5,164.28 450.5,164.12 451.5,163.96 452.5,163.81 453.5,163.67 454.5,163.52 455.5,163.38 456.5,163.25 457.5,163.12 458.5,162.99 459.5,162.86 460.5,162.74 461.5,162.61 462.5,162.49 463.5,162.37 464.5,162.25 465.5,162.13 466.5,162.02 467.5,161.92 468.5,161.82 469.5,161.74 470.5,161.66 471.5,161.58 472.5,161.51 473.5,161.44 474.5,161.37 475.5,161.33 476.5,161.30 477.5,161.30 478.5,161.31 479.5,161.32 480.5,161.34 481.5,161.37 482.5,161.41 483.5,161.45 484.5,161.49 485.5,161.54 486.5,161.59 487.5,161.65 488.5,161.71 489.5,161.77 490.5,161.84 491.5,161.93 492.5,162.06 493.5,162.21 494.5,162.38 495.5,162.56 496.5,162.76 497.5,162.97 498.5,163.18 499.5,163.40 500.5,163.61 501.5,163.85 502.5,164.11 503.5,164.39 504.5,164.68 505.5,164.98 506.5,165.27 507.5,165.56 508.5,165.83 509.5,166.08 510.5,166.31 511.5,166.53 512.5,166.74 513.5,166.95 514.5,167.15 515.5,167.35 516.5,167.55 517.5,167.74 518.5,167.92 519.5,168.10 520.5,168.27 521.5,168.44 522.5,168.61 523.5,168.77 524.5,168.92 525.5,169.08 526.5,169.22 527.5,169.37 528.5,169.52 529.5,169.66 530.5,169.80 531.5,169.93 532.5,170.06 533.5,170.19 534.5,170.31 535.5,170.43 536.5,170.54 537.5,170.65 538.5,170.76 539.5,170.85 540.5,170.95 541.5,171.04 542.5,171.13 543.5,171.21 544.5,171.30 545.5,171.38 546.5,171.47 547.5,171.55 548.5,171.63 549.5,171.70 550.5,171.77 551.5,171.84 552.5,171.91 553.5,171.98 554.5,172.04 555.5,172.09 556.5,172.15 557.5,172.20 558.5,172.24 559.5,172.28 560.5,172.32 561.5,172.35 562.5,172.39 563.5,172.42 564.5,172.46 565.5,172.49 566.5,172.52 567.5,172.55 568.5,172.58 569.5,172.61 570.5,172.64 571.5,172.67 572.5,172.70 573.5,172.72 574.5,172.75 575.5,172.77 576.5,172.80 577.5,172.82 578.5,172.84 579.5,172.86 580.5,172.88 581.5,172.90 582.5,172.91 583.5,172.93 584.5,172.94 585.5,172.96 586.5,172.97 587.5,172.98 588.5,172.99 589.5,173.00 590.5,173.00 591.5,173.01 592.5,173.02 593.5,173.02 594.5,173.03 595.5,173.04 596.5,173.04 597.5,173.05 598.5,173.05 599.5,173.06 600.5,173.07 601.5,173.07 602.5,173.08 603.5,173.08 604.5,173.09 605.5,173.10 606.5,173.10 607.5,173.11 608.5,173.11 609.5,173.12 610.5,173.12 611.5,173.13 612.5,173.13 613.5,173.14 614.5,173.14 615.5,173.15 616.5,173.15 617.5,173.16 618.5,173.16 619.5,173.17 620.5,173.17 621.5,173.17 622.5,173.18 623.5,173.18 624.5,173.19 625.5,173.19 626.5,173.20 627.5,173.20 628.5,173.20 629.5,173.21 630.5,173.21 631.5,173.21 632.5,173.22 633.5,173.22 634.5,173.22 635.5,173.23 636.5,173.23 637.5,173.23 638.5,173.24 639.5,173.24 640.5,173.24 641.5,173.25 642.5,173.25 643.5,173.25 644.5,173.25 645.5,173.26 646.5,173.26 647.5,173.26 648.5,173.26 649.5,173.27 650.5,173.27 651.5,173.27 652.5,173.27 653.5,173.28 654.5,173.28 655.5,173.28 656.5,173.28 657.5,173.28 658.5,173.28 659.5,173.29 660.5,173.29 661.5,173.29 662.5,173.29 663.5,173.29 664.5,173.29 665.5,173.29 666.5,173.29 667.5,173.29 668.5,173.30 669.5,173.30 670.5,173.30 671.5,173.30 672.5,173.30 673.5,173.30 674.5,173.30 675.5,173.30 676.5,173.30 677.5,173.30 678.5,173.30 679.5,173.30" fill="none" stroke="#000000" stroke-width="1.3" stroke-dasharray="1 1" stroke-linecap="butt" stroke-linejoin="round"/>
<polyline points="400.5,173.39 401.5,173.38 402.5,173.35 403.5,173.32 404.5,173.28 405.5,173.24 406.5,173.19 407.5,173.14 408.5,173.08 409.5,173.03 410.5,172.97 411.5,172.90 412.5,172.83 413.5,172.74 414.5,172.65 415.5,172.55 416.5,172.44 417.5,172.32 418.5,172.20 419.5,172.07 420.5,171.93 421.5,171.77 422.5,171.60 423.5,171.41 424.5,171.21 425.5,170.99 426.5,170.76 427.5,170.53 428.5,170.28 429.5,170.03 430.5,169.77 431.5,169.50 432.5,169.22 433.5,168.93 434.5,168.62 435.5,168.30 436.5,167.96 437.5,167.60 438.5,167.21 439.5,166.81 440.5,166.38 441.5,165.87 442.5,165.31 443.5,164.72 444.5,164.10 445.5,163.50 446.5,162.88 447.5,162.24 448.5,161.57 449.5,160.87 450.5,160.12 451.5,159.29 452.5,158.41 453.5,157.52 454.5,156.63 455.5,155.78 456.5,154.95 457.5,154.12 458.5,153.29 459.5,152.44 460.5,151.55 461.5,150.64 462.5,149.71 463.5,148.76 464.5,147.79 465.5,146.80 466.5,145.78 467.5,144.73 468.5,143.68 469.5,142.62 470.5,141.58 471.5,140.54 472.5,139.49 473.5,138.45 474.5,137.42 475.5,136.39 476.5,135.36 477.5,134.35 478.5,133.33 479.5,132.31 480.5,131.29 481.5,130.26 482.5,129.23 483.5,128.20 484.5,127.17 485.5,126.14 486.5,125.11 487.5,124.08 488.5,123.05 489.5,122.02 490.5,120.98 491.5,119.94 492.5,118.89 493.5,117.84 494.5,116.79 495.5,115.74 496.5,114.70 497.5,113.68 498.5,112.67 499.5,111.68 500.5,110.72 501.5,109.77 502.5,108.84 503.5,107.92 504.5,107.01 505.5,106.11 506.5,105.23 507.5,104.35 508.5,103.48 509.5,102.63 510.5,101.78 511.5,100.93 512.5,100.09 513.5,99.26 514.5,98.43 515.5,97.60 516.5,96.79 517.5,95.97 518.5,95.16 519.5,94.36 520.5,93.57 521.5,92.78 522.5,91.99 523.5,91.21 524.5,90.44 525.5,89.67 526.5,88.91 527.5,88.16 528.5,87.41 529.5,86.67 530.5,85.93 531.5,85.20 532.5,84.48 533.5,83.76 534.5,83.04 535.5,82.34 536.5,81.63 537.5,80.93 538.5,80.24 539.5,79.55 540.5,78.87 541.5,78.19 542.5,77.52 543.5,76.85 544.5,76.18 545.5,75.52 546.5,74.86 547.5,74.21 548.5,73.56 549.5,72.92 550.5,72.28 551.5,71.64 552.5,70.99 553.5,70.35 554.5,69.70 555.5,69.06 556.5,68.42 557.5,67.78 558.5,67.15 559.5,66.52 560.5,65.90 561.5,65.29 562.5,64.69 563.5,64.10 564.5,63.52 565.5,62.95 566.5,62.40 567.5,61.87 568.5,61.35 569.5,60.84 570.5,60.36 571.5,59.89 572.5,59.42 573.5,58.97 574.5,58.53 575.5,58.09 576.5,57.66 577.5,57.24 578.5,56.83 579.5,56.43 580.5,56.03 581.5,55.64 582.5,55.25 583.5,54.87 584.5,54.49 585.5,54.12 586.5,53.76 587.5,53.39 588.5,53.03 589.5,52.68 590.5,52.32 591.5,51.97 592.5,51.62 593.5,51.27 594.5,50.92 595.5,50.57 596.5,50.23 597.5,49.89 598.5,49.56 599.5,49.23 600.5,48.91 601.5,48.59 602.5,48.28 603.5,47.98 604.5,47.68 605.5,47.39 606.5,47.11 607.5,46.84 608.5,46.57 609.5,46.32 610.5,46.08 611.5,45.84 612.5,45.60 613.5,45.37 614.5,45.14 615.5,44.92 616.5,44.71 617.5,44.50 618.5,44.29 619.5,44.10 620.5,43.91 621.5,43.74 622.5,43.57 623.5,43.41 624.5,43.27 625.5,43.13 626.5,43.00 627.5,42.87 628.5,42.74 629.5,42.61 630.5,42.49 631.5,42.37 632.5,42.26 633.5,42.16 634.5,42.06 635.5,41.97 636.5,41.89 637.5,41.82 638.5,41.76 639.5,41.72 640.5,41.68 641.5,41.65 642.5,41.62 643.5,41.59 644.5,41.56 645.5,41.54 646.5,41.51 647.5,41.49 648.5,41.47 649.5,41.45 650.5,41.43 651.5,41.42 652.5,41.41 653.5,41.40 654.5,41.40 655.5,41.40 656.5,41.41 657.5,41.44 658.5,41.47 659.5,41.51 660.5,41.56 661.5,41.61 662.5,41.67 663.5,41.74 664.5,41.81 665.5,41.88 666.5,41.95 667.5,42.02 668.5,42.09 669.5,42.17 670.5,42.23 671.5,42.31 672.5,42.39 673.5,42.47 674.5,42.56 675.5,42.65 676.5,42.75 677.5,42.85 678.5,42.95 679.5,43.05" fill="none" stroke="#ff30ff" stroke-width="1.5" stroke-dasharray="4 1.3 1.8 1.3" stroke-linecap="butt" stroke-linejoin="round"/>
</g>
<path d="M32.5,397V236M32,396.5H312M311.5,397V236" stroke="#555" stroke-width="1" fill="none"/>
<path d="M32,236.5H312" stroke="#666" stroke-width="1" fill="none"/>
<path d="M32.50,396.5v-2.8M32.50,236v3.3M60.40,396.5v-2.8M60.40,236v3.3M88.30,396.5v-2.8M88.30,236v3.3M116.20,396.5v-2.8M116.20,236v3.3M144.10,396.5v-2.8M144.10,236v3.3M172.00,396.5v-2.8M172.00,236v3.3M199.90,396.5v-2.8M199.90,236v3.3M227.80,396.5v-2.8M227.80,236v3.3M255.70,396.5v-2.8M255.70,236v3.3M283.60,396.5v-2.8M283.60,236v3.3M311.50,396.5v-2.8M311.50,236v3.3M32.5,396.50h2.8M311.5,396.50h-2.8M32.5,369.75h2.8M311.5,369.75h-2.8M32.5,343.00h2.8M311.5,343.00h-2.8M32.5,316.25h2.8M311.5,316.25h-2.8M32.5,289.50h2.8M311.5,289.50h-2.8M32.5,262.75h2.8M311.5,262.75h-2.8M32.5,236.00h2.8M311.5,236.00h-2.8" stroke="#444" stroke-width="0.8" fill="none"/>
<text x="32.60" y="407.10" font-size="7" text-anchor="middle" fill="#262626">0</text>
<text x="60.50" y="407.10" font-size="7" text-anchor="middle" fill="#262626">10</text>
<text x="88.40" y="407.10" font-size="7" text-anchor="middle" fill="#262626">20</text>
<text x="116.30" y="407.10" font-size="7" text-anchor="middle" fill="#262626">30</text>
<text x="144.20" y="407.10" font-size="7" text-anchor="middle" fill="#262626">40</text>
<text x="172.10" y="407.10" font-size="7" text-anchor="middle" fill="#262626">50</text>
<text x="200.00" y="407.10" font-size="7" text-anchor="middle" fill="#262626">60</text>
<text x="227.90" y="407.10" font-size="7" text-anchor="middle" fill="#262626">70</text>
<text x="255.80" y="407.10" font-size="7" text-anchor="middle" fill="#262626">80</text>
<text x="283.70" y="407.10" font-size="7" text-anchor="middle" fill="#262626">90</text>
<text x="311.60" y="407.10" font-size="7" text-anchor="middle" fill="#262626">100</text>
<text x="29.10" y="399.80" font-size="7" text-anchor="end" fill="#262626">-0.5</text>
<text x="29.10" y="373.05" font-size="7" text-anchor="end" fill="#262626">0</text>
<text x="29.10" y="346.30" font-size="7" text-anchor="end" fill="#262626">0.5</text>
<text x="29.10" y="319.55" font-size="7" text-anchor="end" fill="#262626">1</text>
<text x="29.10" y="292.80" font-size="7" text-anchor="end" fill="#262626">1.5</text>
<text x="29.10" y="266.05" font-size="7" text-anchor="end" fill="#262626">2</text>
<text x="29.10" y="239.30" font-size="7" text-anchor="end" fill="#262626">2.5</text>
<g clip-path="url(#cc)">
<path d="M32.50,312.95V314.93M33.20,311.04V314.04M33.90,309.92V313.52M34.60,308.50V314.14M35.30,308.20V313.78M36.00,304.99V312.04M36.70,304.87V313.26M37.39,301.89V310.64M38.09,299.97V310.41M38.79,299.03V310.73M39.49,299.37V310.07M40.19,298.87V310.58M40.89,295.98V309.23M41.59,293.09V307.94M42.29,292.26V308.75M42.99,291.27V306.81M43.69,291.84V307.24M44.39,290.85V305.91M45.09,290.31V303.87M45.79,288.82V304.51M46.48,287.06V303.71M47.18,286.38V303.37M47.88,285.48V302.52M48.58,284.88V301.70M49.28,282.76V301.32M49.98,283.39V302.06M50.68,281.44V301.32M51.38,280.69V300.92M52.08,280.70V300.65M52.78,279.81V300.25M53.48,278.49V299.53M54.18,275.75V297.87M54.88,275.94V298.19M55.58,276.16V297.19M56.27,274.40V297.11M56.97,273.69V296.57M57.67,273.49V295.88M58.37,273.98V294.91M59.07,273.30V294.05M59.77,272.28V292.32M60.47,270.37V292.18M61.17,270.36V291.56M61.87,268.51V290.09M62.57,268.98V290.18M63.27,269.01V288.57M63.97,267.22V288.13M64.67,266.61V287.99M65.36,267.00V286.47M66.06,267.26V287.25M66.76,266.06V286.06M67.46,265.66V285.35M68.16,266.78V285.93M68.86,265.53V285.45M69.56,264.23V284.70M70.26,266.21V285.69M70.96,263.47V284.59M71.66,264.56V285.69M72.36,264.81V285.01M73.06,264.29V284.51M73.76,262.73V284.19M74.45,262.32V284.07M75.15,263.77V284.72M75.85,263.44V283.92M76.55,264.76V284.43M77.25,265.14V283.39M77.95,265.53V282.63M78.65,266.86V284.03M79.35,268.13V283.31M80.05,268.19V283.66M80.75,270.01V282.66M81.45,269.41V283.20M82.15,270.80V284.65M82.85,270.99V283.49M83.55,271.32V284.94M84.24,271.13V283.32M84.94,269.71V285.10M85.64,273.77V285.84M86.34,274.11V286.08M87.04,274.04V286.00M87.74,273.85V286.43M88.44,274.93V287.39M89.14,275.07V288.48M89.84,275.55V288.12M90.54,276.38V288.60M91.24,277.14V288.83M91.94,277.28V289.38M92.64,278.84V290.19M93.33,278.89V290.49M94.03,281.16V292.08M94.73,280.23V291.89M95.43,282.27V294.15M96.13,283.04V295.67M96.83,282.93V296.07M97.53,284.59V297.13M98.23,285.81V299.66M98.93,286.68V301.93M99.63,288.20V302.11M100.33,289.96V302.58M101.03,290.40V304.34M101.73,290.50V306.20M102.42,293.53V306.69M103.12,294.78V308.55M103.82,295.66V309.30M104.52,295.87V309.17M105.22,296.97V310.79M105.92,297.44V311.33M106.62,298.90V312.54M107.32,298.74V312.85M108.02,299.72V314.99M108.72,301.61V316.69M109.42,301.84V315.39M110.12,302.27V317.01M110.82,302.88V318.18M111.52,302.48V317.21M112.21,303.65V318.32M112.91,302.86V318.41M113.61,303.45V319.28M114.31,304.69V319.32M115.01,306.06V318.70M115.71,308.16V320.59M116.41,308.09V320.55M117.11,308.51V320.95M117.81,309.81V322.28M118.51,310.20V320.74M119.21,309.50V321.34M119.91,313.32V323.18M120.61,313.82V324.04M121.30,313.56V324.84M122.00,314.20V324.91M122.70,315.07V326.92M123.40,316.03V326.91M124.10,315.33V326.60M124.80,315.80V327.81M125.50,317.09V328.22M126.20,316.35V327.82M126.90,318.14V329.13M127.60,317.71V328.52M128.30,318.13V329.33M129.00,317.93V328.02M129.70,319.50V328.13M130.39,319.38V328.74M131.09,319.52V328.25M131.79,319.96V329.71M132.49,319.66V328.38M133.19,320.58V329.33M133.89,320.39V328.07M134.59,321.16V329.60M135.29,321.66V330.65M135.99,321.73V331.22M136.69,321.23V330.72M137.39,322.53V331.37M138.09,322.69V332.60M138.79,323.04V332.48M139.48,323.45V333.25M140.18,323.54V334.26M140.88,324.48V333.43M141.58,325.51V331.91M142.28,324.75V333.22M142.98,324.96V331.69M143.68,324.51V332.38M144.38,325.45V332.86M145.08,325.50V332.10M145.78,326.44V331.42M146.48,323.30V332.52M147.18,327.36V332.83M147.88,327.50V333.16M148.58,327.16V332.90M149.27,326.43V332.46M149.97,327.75V332.13M150.67,328.14V331.84M151.37,326.86V332.39M152.07,326.11V331.73M152.77,326.73V333.36M153.47,325.86V333.03M154.17,326.79V332.04M154.87,327.67V333.10M155.57,326.89V332.91M156.27,326.61V332.28M156.97,325.64V332.61M157.67,325.86V332.10M158.36,325.15V331.67M159.06,325.93V332.32M159.76,324.86V332.01M160.46,325.44V331.77M161.16,326.07V333.37M161.86,326.79V333.82M162.56,326.42V334.53M163.26,325.98V333.46M163.96,325.61V333.04M164.66,326.79V333.10M165.36,326.85V334.22M166.06,327.41V332.93M166.76,327.05V333.91M167.45,327.04V333.14M168.15,328.43V333.96M168.85,329.17V333.41M169.55,329.22V333.62M170.25,328.07V332.97M170.95,327.81V333.37M171.65,327.76V333.10M172.35,328.24V334.31M173.05,327.07V333.55M173.75,328.22V333.64M174.45,326.52V334.33M175.15,326.16V334.80M175.85,326.91V335.37M176.55,327.44V336.34M177.24,327.78V334.88M177.94,328.28V336.72M178.64,327.04V336.35M179.34,327.97V336.89M180.04,329.42V337.10M180.74,328.96V337.16M181.44,328.26V335.83M182.14,328.85V335.05M182.84,329.00V334.67M183.54,329.36V335.67M184.24,328.01V333.96M184.94,328.64V335.38M185.64,329.35V335.64M186.33,328.79V336.11M187.03,328.87V336.27M187.73,329.40V336.75M188.43,328.06V335.72M189.13,328.84V336.31M189.83,328.18V335.59M190.53,327.68V335.78M191.23,327.25V335.46M191.93,327.50V335.74M192.63,327.23V335.71M193.33,327.63V337.05M194.03,327.27V335.01M194.73,328.35V336.53M195.42,327.30V335.82M196.12,327.51V336.53M196.82,326.17V336.98M197.52,328.08V335.64M198.22,328.04V337.34M198.92,328.27V335.16M199.62,327.99V335.18M200.32,328.77V336.57M201.02,328.50V337.82M201.72,328.24V337.27M202.42,329.14V336.36M203.12,328.40V337.33M203.82,329.78V336.05M204.52,327.58V336.96M205.21,329.14V336.24M205.91,328.35V338.38M206.61,328.67V337.28M207.31,327.60V336.03M208.01,328.36V337.09M208.71,326.56V336.46M209.41,326.29V335.97M210.11,326.60V337.36M210.81,326.53V336.57M211.51,327.66V337.43M212.21,327.95V337.16M212.91,329.59V338.52M213.61,328.77V338.27M214.30,329.49V338.70M215.00,330.24V337.83M215.70,330.19V338.04M216.40,330.77V338.63M217.10,331.08V338.88M217.80,330.26V337.87M218.50,330.69V337.90M219.20,326.67V339.13M219.90,330.12V338.16M220.60,329.86V339.84M221.30,329.57V339.17M222.00,329.04V338.31M222.70,329.70V338.22M223.39,329.26V338.41M224.09,328.57V338.98M224.79,328.11V339.42M225.49,328.66V337.95M226.19,327.76V337.58M226.89,327.86V337.59M227.59,328.67V337.86M228.29,327.44V337.26M228.99,328.46V336.46M229.69,328.62V337.32M230.39,328.77V337.08M231.09,327.93V337.15M231.79,328.41V336.40M232.48,329.48V336.33M233.18,327.91V337.37M233.88,328.68V338.74M234.58,327.27V336.31M235.28,328.13V337.35M235.98,327.35V336.83M236.68,328.25V337.16M237.38,328.85V337.94M238.08,328.50V338.12M238.78,330.01V337.08M239.48,329.61V337.51M240.18,329.97V338.50M240.88,329.67V337.71M241.58,329.42V336.24M242.27,330.48V339.45M242.97,330.14V336.79M243.67,329.61V336.77M244.37,329.67V338.00M245.07,329.85V337.47M245.77,330.44V339.11M246.47,328.58V337.76M247.17,329.60V337.90M247.87,327.93V337.19M248.57,327.77V337.04M249.27,327.69V337.74M249.97,327.87V337.15M250.67,327.28V339.81M251.36,328.39V336.81M252.06,328.35V337.09M252.76,329.85V341.38M253.46,326.15V338.21M254.16,327.61V338.64M254.86,331.12V339.36M255.56,330.71V339.69M256.26,330.75V339.37M256.96,331.55V340.66M257.66,329.82V339.92M258.36,331.57V340.24M259.06,329.17V337.92M259.76,329.35V336.50M260.45,329.37V338.48M261.15,329.97V338.67M261.85,329.30V337.75M262.55,328.61V337.53M263.25,328.94V338.17M263.95,329.24V338.52M264.65,328.91V337.99M265.35,328.48V338.70M266.05,327.52V338.32M266.75,327.99V339.49M267.45,328.18V338.80M268.15,327.59V337.94M268.85,327.27V337.74M269.55,327.86V337.85M270.24,328.11V337.35M270.94,328.54V337.48M271.64,328.86V337.37M272.34,328.62V337.90M273.04,329.08V338.94M273.74,328.59V339.33M274.44,328.83V338.82M275.14,328.95V338.54M275.84,329.20V337.81M276.54,328.48V338.41M277.24,329.34V338.33M277.94,328.96V339.22M278.64,327.77V337.60M279.33,328.39V336.96M280.03,328.45V337.64M280.73,328.92V337.02M281.43,328.22V338.66M282.13,327.84V337.92M282.83,328.49V338.83M283.53,329.01V338.91M284.23,328.75V338.87M284.93,329.00V338.70M285.63,329.05V339.04M286.33,328.29V339.54M287.03,329.00V339.47M287.73,328.24V337.42M288.42,328.99V338.13M289.12,329.62V338.79M289.82,328.92V338.13M290.52,328.78V338.07M291.22,329.43V338.72M291.92,328.61V336.12M292.62,328.67V338.01M293.32,328.13V337.38M294.02,328.42V338.39M294.72,328.71V338.14M295.42,329.06V338.33M296.12,328.87V337.57M296.82,329.96V338.16M297.52,329.13V338.51M298.21,330.34V338.48M298.91,330.42V337.85M299.61,329.79V338.01M300.31,331.08V338.85M301.01,330.12V338.46M301.71,331.01V338.71M302.41,331.15V339.36M303.11,330.79V339.10M303.81,330.75V339.81M304.51,330.05V339.09M305.21,330.93V339.21M305.91,329.93V337.76M306.61,329.11V337.10M307.30,329.35V338.66M308.00,328.48V337.72M308.70,328.80V337.79M309.40,327.33V337.46M310.10,327.80V337.58M310.80,328.61V337.17M311.50,327.10V336.84" stroke="#3d7cc4" stroke-width="1.05" fill="none"/>
<path d="M30.20,312.95h4.6M30.20,314.93h4.6M30.90,311.04h4.6M30.90,314.04h4.6M31.60,309.92h4.6M31.60,313.52h4.6M32.30,308.50h4.6M32.30,314.14h4.6M33.00,308.20h4.6M33.00,313.78h4.6M33.70,304.99h4.6M33.70,312.04h4.6M34.40,304.87h4.6M34.40,313.26h4.6M35.09,301.89h4.6M35.09,310.64h4.6M35.79,299.97h4.6M35.79,310.41h4.6M36.49,299.03h4.6M36.49,310.73h4.6M37.19,299.37h4.6M37.19,310.07h4.6M37.89,298.87h4.6M37.89,310.58h4.6M38.59,295.98h4.6M38.59,309.23h4.6M39.29,293.09h4.6M39.29,307.94h4.6M39.99,292.26h4.6M39.99,308.75h4.6M40.69,291.27h4.6M40.69,306.81h4.6M41.39,291.84h4.6M41.39,307.24h4.6M42.09,290.85h4.6M42.09,305.91h4.6M42.79,290.31h4.6M42.79,303.87h4.6M43.49,288.82h4.6M43.49,304.51h4.6M44.18,287.06h4.6M44.18,303.71h4.6M44.88,286.38h4.6M44.88,303.37h4.6M45.58,285.48h4.6M45.58,302.52h4.6M46.28,284.88h4.6M46.28,301.70h4.6M46.98,282.76h4.6M46.98,301.32h4.6M47.68,283.39h4.6M47.68,302.06h4.6M48.38,281.44h4.6M48.38,301.32h4.6M49.08,280.69h4.6M49.08,300.92h4.6M49.78,280.70h4.6M49.78,300.65h4.6M50.48,279.81h4.6M50.48,300.25h4.6M51.18,278.49h4.6M51.18,299.53h4.6M51.88,275.75h4.6M51.88,297.87h4.6M52.58,275.94h4.6M52.58,298.19h4.6M53.28,276.16h4.6M53.28,297.19h4.6M53.97,274.40h4.6M53.97,297.11h4.6M54.67,273.69h4.6M54.67,296.57h4.6M55.37,273.49h4.6M55.37,295.88h4.6M56.07,273.98h4.6M56.07,294.91h4.6M56.77,273.30h4.6M56.77,294.05h4.6M57.47,272.28h4.6M57.47,292.32h4.6M58.17,270.37h4.6M58.17,292.18h4.6M58.87,270.36h4.6M58.87,291.56h4.6M59.57,268.51h4.6M59.57,290.09h4.6M60.27,268.98h4.6M60.27,290.18h4.6M60.97,269.01h4.6M60.97,288.57h4.6M61.67,267.22h4.6M61.67,288.13h4.6M62.37,266.61h4.6M62.37,287.99h4.6M63.06,267.00h4.6M63.06,286.47h4.6M63.76,267.26h4.6M63.76,287.25h4.6M64.46,266.06h4.6M64.46,286.06h4.6M65.16,265.66h4.6M65.16,285.35h4.6M65.86,266.78h4.6M65.86,285.93h4.6M66.56,265.53h4.6M66.56,285.45h4.6M67.26,264.23h4.6M67.26,284.70h4.6M67.96,266.21h4.6M67.96,285.69h4.6M68.66,263.47h4.6M68.66,284.59h4.6M69.36,264.56h4.6M69.36,285.69h4.6M70.06,264.81h4.6M70.06,285.01h4.6M70.76,264.29h4.6M70.76,284.51h4.6M71.46,262.73h4.6M71.46,284.19h4.6M72.15,262.32h4.6M72.15,284.07h4.6M72.85,263.77h4.6M72.85,284.72h4.6M73.55,263.44h4.6M73.55,283.92h4.6M74.25,264.76h4.6M74.25,284.43h4.6M74.95,265.14h4.6M74.95,283.39h4.6M75.65,265.53h4.6M75.65,282.63h4.6M76.35,266.86h4.6M76.35,284.03h4.6M77.05,268.13h4.6M77.05,283.31h4.6M77.75,268.19h4.6M77.75,283.66h4.6M78.45,270.01h4.6M78.45,282.66h4.6M79.15,269.41h4.6M79.15,283.20h4.6M79.85,270.80h4.6M79.85,284.65h4.6M80.55,270.99h4.6M80.55,283.49h4.6M81.25,271.32h4.6M81.25,284.94h4.6M81.94,271.13h4.6M81.94,283.32h4.6M82.64,269.71h4.6M82.64,285.10h4.6M83.34,273.77h4.6M83.34,285.84h4.6M84.04,274.11h4.6M84.04,286.08h4.6M84.74,274.04h4.6M84.74,286.00h4.6M85.44,273.85h4.6M85.44,286.43h4.6M86.14,274.93h4.6M86.14,287.39h4.6M86.84,275.07h4.6M86.84,288.48h4.6M87.54,275.55h4.6M87.54,288.12h4.6M88.24,276.38h4.6M88.24,288.60h4.6M88.94,277.14h4.6M88.94,288.83h4.6M89.64,277.28h4.6M89.64,289.38h4.6M90.34,278.84h4.6M90.34,290.19h4.6M91.03,278.89h4.6M91.03,290.49h4.6M91.73,281.16h4.6M91.73,292.08h4.6M92.43,280.23h4.6M92.43,291.89h4.6M93.13,282.27h4.6M93.13,294.15h4.6M93.83,283.04h4.6M93.83,295.67h4.6M94.53,282.93h4.6M94.53,296.07h4.6M95.23,284.59h4.6M95.23,297.13h4.6M95.93,285.81h4.6M95.93,299.66h4.6M96.63,286.68h4.6M96.63,301.93h4.6M97.33,288.20h4.6M97.33,302.11h4.6M98.03,289.96h4.6M98.03,302.58h4.6M98.73,290.40h4.6M98.73,304.34h4.6M99.43,290.50h4.6M99.43,306.20h4.6M100.12,293.53h4.6M100.12,306.69h4.6M100.82,294.78h4.6M100.82,308.55h4.6M101.52,295.66h4.6M101.52,309.30h4.6M102.22,295.87h4.6M102.22,309.17h4.6M102.92,296.97h4.6M102.92,310.79h4.6M103.62,297.44h4.6M103.62,311.33h4.6M104.32,298.90h4.6M104.32,312.54h4.6M105.02,298.74h4.6M105.02,312.85h4.6M105.72,299.72h4.6M105.72,314.99h4.6M106.42,301.61h4.6M106.42,316.69h4.6M107.12,301.84h4.6M107.12,315.39h4.6M107.82,302.27h4.6M107.82,317.01h4.6M108.52,302.88h4.6M108.52,318.18h4.6M109.22,302.48h4.6M109.22,317.21h4.6M109.91,303.65h4.6M109.91,318.32h4.6M110.61,302.86h4.6M110.61,318.41h4.6M111.31,303.45h4.6M111.31,319.28h4.6M112.01,304.69h4.6M112.01,319.32h4.6M112.71,306.06h4.6M112.71,318.70h4.6M113.41,308.16h4.6M113.41,320.59h4.6M114.11,308.09h4.6M114.11,320.55h4.6M114.81,308.51h4.6M114.81,320.95h4.6M115.51,309.81h4.6M115.51,322.28h4.6M116.21,310.20h4.6M116.21,320.74h4.6M116.91,309.50h4.6M116.91,321.34h4.6M117.61,313.32h4.6M117.61,323.18h4.6M118.31,313.82h4.6M118.31,324.04h4.6M119.00,313.56h4.6M119.00,324.84h4.6M119.70,314.20h4.6M119.70,324.91h4.6M120.40,315.07h4.6M120.40,326.92h4.6M121.10,316.03h4.6M121.10,326.91h4.6M121.80,315.33h4.6M121.80,326.60h4.6M122.50,315.80h4.6M122.50,327.81h4.6M123.20,317.09h4.6M123.20,328.22h4.6M123.90,316.35h4.6M123.90,327.82h4.6M124.60,318.14h4.6M124.60,329.13h4.6M125.30,317.71h4.6M125.30,328.52h4.6M126.00,318.13h4.6M126.00,329.33h4.6M126.70,317.93h4.6M126.70,328.02h4.6M127.40,319.50h4.6M127.40,328.13h4.6M128.09,319.38h4.6M128.09,328.74h4.6M128.79,319.52h4.6M128.79,328.25h4.6M129.49,319.96h4.6M129.49,329.71h4.6M130.19,319.66h4.6M130.19,328.38h4.6M130.89,320.58h4.6M130.89,329.33h4.6M131.59,320.39h4.6M131.59,328.07h4.6M132.29,321.16h4.6M132.29,329.60h4.6M132.99,321.66h4.6M132.99,330.65h4.6M133.69,321.73h4.6M133.69,331.22h4.6M134.39,321.23h4.6M134.39,330.72h4.6M135.09,322.53h4.6M135.09,331.37h4.6M135.79,322.69h4.6M135.79,332.60h4.6M136.49,323.04h4.6M136.49,332.48h4.6M137.18,323.45h4.6M137.18,333.25h4.6M137.88,323.54h4.6M137.88,334.26h4.6M138.58,324.48h4.6M138.58,333.43h4.6M139.28,325.51h4.6M139.28,331.91h4.6M139.98,324.75h4.6M139.98,333.22h4.6M140.68,324.96h4.6M140.68,331.69h4.6M141.38,324.51h4.6M141.38,332.38h4.6M142.08,325.45h4.6M142.08,332.86h4.6M142.78,325.50h4.6M142.78,332.10h4.6M143.48,326.44h4.6M143.48,331.42h4.6M144.18,323.30h4.6M144.18,332.52h4.6M144.88,327.36h4.6M144.88,332.83h4.6M145.58,327.50h4.6M145.58,333.16h4.6M146.28,327.16h4.6M146.28,332.90h4.6M146.97,326.43h4.6M146.97,332.46h4.6M147.67,327.75h4.6M147.67,332.13h4.6M148.37,328.14h4.6M148.37,331.84h4.6M149.07,326.86h4.6M149.07,332.39h4.6M149.77,326.11h4.6M149.77,331.73h4.6M150.47,326.73h4.6M150.47,333.36h4.6M151.17,325.86h4.6M151.17,333.03h4.6M151.87,326.79h4.6M151.87,332.04h4.6M152.57,327.67h4.6M152.57,333.10h4.6M153.27,326.89h4.6M153.27,332.91h4.6M153.97,326.61h4.6M153.97,332.28h4.6M154.67,325.64h4.6M154.67,332.61h4.6M155.37,325.86h4.6M155.37,332.10h4.6M156.06,325.15h4.6M156.06,331.67h4.6M156.76,325.93h4.6M156.76,332.32h4.6M157.46,324.86h4.6M157.46,332.01h4.6M158.16,325.44h4.6M158.16,331.77h4.6M158.86,326.07h4.6M158.86,333.37h4.6M159.56,326.79h4.6M159.56,333.82h4.6M160.26,326.42h4.6M160.26,334.53h4.6M160.96,325.98h4.6M160.96,333.46h4.6M161.66,325.61h4.6M161.66,333.04h4.6M162.36,326.79h4.6M162.36,333.10h4.6M163.06,326.85h4.6M163.06,334.22h4.6M163.76,327.41h4.6M163.76,332.93h4.6M164.46,327.05h4.6M164.46,333.91h4.6M165.15,327.04h4.6M165.15,333.14h4.6M165.85,328.43h4.6M165.85,333.96h4.6M166.55,329.17h4.6M166.55,333.41h4.6M167.25,329.22h4.6M167.25,333.62h4.6M167.95,328.07h4.6M167.95,332.97h4.6M168.65,327.81h4.6M168.65,333.37h4.6M169.35,327.76h4.6M169.35,333.10h4.6M170.05,328.24h4.6M170.05,334.31h4.6M170.75,327.07h4.6M170.75,333.55h4.6M171.45,328.22h4.6M171.45,333.64h4.6M172.15,326.52h4.6M172.15,334.33h4.6M172.85,326.16h4.6M172.85,334.80h4.6M173.55,326.91h4.6M173.55,335.37h4.6M174.25,327.44h4.6M174.25,336.34h4.6M174.94,327.78h4.6M174.94,334.88h4.6M175.64,328.28h4.6M175.64,336.72h4.6M176.34,327.04h4.6M176.34,336.35h4.6M177.04,327.97h4.6M177.04,336.89h4.6M177.74,329.42h4.6M177.74,337.10h4.6M178.44,328.96h4.6M178.44,337.16h4.6M179.14,328.26h4.6M179.14,335.83h4.6M179.84,328.85h4.6M179.84,335.05h4.6M180.54,329.00h4.6M180.54,334.67h4.6M181.24,329.36h4.6M181.24,335.67h4.6M181.94,328.01h4.6M181.94,333.96h4.6M182.64,328.64h4.6M182.64,335.38h4.6M183.34,329.35h4.6M183.34,335.64h4.6M184.03,328.79h4.6M184.03,336.11h4.6M184.73,328.87h4.6M184.73,336.27h4.6M185.43,329.40h4.6M185.43,336.75h4.6M186.13,328.06h4.6M186.13,335.72h4.6M186.83,328.84h4.6M186.83,336.31h4.6M187.53,328.18h4.6M187.53,335.59h4.6M188.23,327.68h4.6M188.23,335.78h4.6M188.93,327.25h4.6M188.93,335.46h4.6M189.63,327.50h4.6M189.63,335.74h4.6M190.33,327.23h4.6M190.33,335.71h4.6M191.03,327.63h4.6M191.03,337.05h4.6M191.73,327.27h4.6M191.73,335.01h4.6M192.43,328.35h4.6M192.43,336.53h4.6M193.12,327.30h4.6M193.12,335.82h4.6M193.82,327.51h4.6M193.82,336.53h4.6M194.52,326.17h4.6M194.52,336.98h4.6M195.22,328.08h4.6M195.22,335.64h4.6M195.92,328.04h4.6M195.92,337.34h4.6M196.62,328.27h4.6M196.62,335.16h4.6M197.32,327.99h4.6M197.32,335.18h4.6M198.02,328.77h4.6M198.02,336.57h4.6M198.72,328.50h4.6M198.72,337.82h4.6M199.42,328.24h4.6M199.42,337.27h4.6M200.12,329.14h4.6M200.12,336.36h4.6M200.82,328.40h4.6M200.82,337.33h4.6M201.52,329.78h4.6M201.52,336.05h4.6M202.22,327.58h4.6M202.22,336.96h4.6M202.91,329.14h4.6M202.91,336.24h4.6M203.61,328.35h4.6M203.61,338.38h4.6M204.31,328.67h4.6M204.31,337.28h4.6M205.01,327.60h4.6M205.01,336.03h4.6M205.71,328.36h4.6M205.71,337.09h4.6M206.41,326.56h4.6M206.41,336.46h4.6M207.11,326.29h4.6M207.11,335.97h4.6M207.81,326.60h4.6M207.81,337.36h4.6M208.51,326.53h4.6M208.51,336.57h4.6M209.21,327.66h4.6M209.21,337.43h4.6M209.91,327.95h4.6M209.91,337.16h4.6M210.61,329.59h4.6M210.61,338.52h4.6M211.31,328.77h4.6M211.31,338.27h4.6M212.00,329.49h4.6M212.00,338.70h4.6M212.70,330.24h4.6M212.70,337.83h4.6M213.40,330.19h4.6M213.40,338.04h4.6M214.10,330.77h4.6M214.10,338.63h4.6M214.80,331.08h4.6M214.80,338.88h4.6M215.50,330.26h4.6M215.50,337.87h4.6M216.20,330.69h4.6M216.20,337.90h4.6M216.90,326.67h4.6M216.90,339.13h4.6M217.60,330.12h4.6M217.60,338.16h4.6M218.30,329.86h4.6M218.30,339.84h4.6M219.00,329.57h4.6M219.00,339.17h4.6M219.70,329.04h4.6M219.70,338.31h4.6M220.40,329.70h4.6M220.40,338.22h4.6M221.09,329.26h4.6M221.09,338.41h4.6M221.79,328.57h4.6M221.79,338.98h4.6M222.49,328.11h4.6M222.49,339.42h4.6M223.19,328.66h4.6M223.19,337.95h4.6M223.89,327.76h4.6M223.89,337.58h4.6M224.59,327.86h4.6M224.59,337.59h4.6M225.29,328.67h4.6M225.29,337.86h4.6M225.99,327.44h4.6M225.99,337.26h4.6M226.69,328.46h4.6M226.69,336.46h4.6M227.39,328.62h4.6M227.39,337.32h4.6M228.09,328.77h4.6M228.09,337.08h4.6M228.79,327.93h4.6M228.79,337.15h4.6M229.49,328.41h4.6M229.49,336.40h4.6M230.18,329.48h4.6M230.18,336.33h4.6M230.88,327.91h4.6M230.88,337.37h4.6M231.58,328.68h4.6M231.58,338.74h4.6M232.28,327.27h4.6M232.28,336.31h4.6M232.98,328.13h4.6M232.98,337.35h4.6M233.68,327.35h4.6M233.68,336.83h4.6M234.38,328.25h4.6M234.38,337.16h4.6M235.08,328.85h4.6M235.08,337.94h4.6M235.78,328.50h4.6M235.78,338.12h4.6M236.48,330.01h4.6M236.48,337.08h4.6M237.18,329.61h4.6M237.18,337.51h4.6M237.88,329.97h4.6M237.88,338.50h4.6M238.58,329.67h4.6M238.58,337.71h4.6M239.28,329.42h4.6M239.28,336.24h4.6M239.97,330.48h4.6M239.97,339.45h4.6M240.67,330.14h4.6M240.67,336.79h4.6M241.37,329.61h4.6M241.37,336.77h4.6M242.07,329.67h4.6M242.07,338.00h4.6M242.77,329.85h4.6M242.77,337.47h4.6M243.47,330.44h4.6M243.47,339.11h4.6M244.17,328.58h4.6M244.17,337.76h4.6M244.87,329.60h4.6M244.87,337.90h4.6M245.57,327.93h4.6M245.57,337.19h4.6M246.27,327.77h4.6M246.27,337.04h4.6M246.97,327.69h4.6M246.97,337.74h4.6M247.67,327.87h4.6M247.67,337.15h4.6M248.37,327.28h4.6M248.37,339.81h4.6M249.06,328.39h4.6M249.06,336.81h4.6M249.76,328.35h4.6M249.76,337.09h4.6M250.46,329.85h4.6M250.46,341.38h4.6M251.16,326.15h4.6M251.16,338.21h4.6M251.86,327.61h4.6M251.86,338.64h4.6M252.56,331.12h4.6M252.56,339.36h4.6M253.26,330.71h4.6M253.26,339.69h4.6M253.96,330.75h4.6M253.96,339.37h4.6M254.66,331.55h4.6M254.66,340.66h4.6M255.36,329.82h4.6M255.36,339.92h4.6M256.06,331.57h4.6M256.06,340.24h4.6M256.76,329.17h4.6M256.76,337.92h4.6M257.46,329.35h4.6M257.46,336.50h4.6M258.15,329.37h4.6M258.15,338.48h4.6M258.85,329.97h4.6M258.85,338.67h4.6M259.55,329.30h4.6M259.55,337.75h4.6M260.25,328.61h4.6M260.25,337.53h4.6M260.95,328.94h4.6M260.95,338.17h4.6M261.65,329.24h4.6M261.65,338.52h4.6M262.35,328.91h4.6M262.35,337.99h4.6M263.05,328.48h4.6M263.05,338.70h4.6M263.75,327.52h4.6M263.75,338.32h4.6M264.45,327.99h4.6M264.45,339.49h4.6M265.15,328.18h4.6M265.15,338.80h4.6M265.85,327.59h4.6M265.85,337.94h4.6M266.55,327.27h4.6M266.55,337.74h4.6M267.25,327.86h4.6M267.25,337.85h4.6M267.94,328.11h4.6M267.94,337.35h4.6M268.64,328.54h4.6M268.64,337.48h4.6M269.34,328.86h4.6M269.34,337.37h4.6M270.04,328.62h4.6M270.04,337.90h4.6M270.74,329.08h4.6M270.74,338.94h4.6M271.44,328.59h4.6M271.44,339.33h4.6M272.14,328.83h4.6M272.14,338.82h4.6M272.84,328.95h4.6M272.84,338.54h4.6M273.54,329.20h4.6M273.54,337.81h4.6M274.24,328.48h4.6M274.24,338.41h4.6M274.94,329.34h4.6M274.94,338.33h4.6M275.64,328.96h4.6M275.64,339.22h4.6M276.34,327.77h4.6M276.34,337.60h4.6M277.03,328.39h4.6M277.03,336.96h4.6M277.73,328.45h4.6M277.73,337.64h4.6M278.43,328.92h4.6M278.43,337.02h4.6M279.13,328.22h4.6M279.13,338.66h4.6M279.83,327.84h4.6M279.83,337.92h4.6M280.53,328.49h4.6M280.53,338.83h4.6M281.23,329.01h4.6M281.23,338.91h4.6M281.93,328.75h4.6M281.93,338.87h4.6M282.63,329.00h4.6M282.63,338.70h4.6M283.33,329.05h4.6M283.33,339.04h4.6M284.03,328.29h4.6M284.03,339.54h4.6M284.73,329.00h4.6M284.73,339.47h4.6M285.43,328.24h4.6M285.43,337.42h4.6M286.12,328.99h4.6M286.12,338.13h4.6M286.82,329.62h4.6M286.82,338.79h4.6M287.52,328.92h4.6M287.52,338.13h4.6M288.22,328.78h4.6M288.22,338.07h4.6M288.92,329.43h4.6M288.92,338.72h4.6M289.62,328.61h4.6M289.62,336.12h4.6M290.32,328.67h4.6M290.32,338.01h4.6M291.02,328.13h4.6M291.02,337.38h4.6M291.72,328.42h4.6M291.72,338.39h4.6M292.42,328.71h4.6M292.42,338.14h4.6M293.12,329.06h4.6M293.12,338.33h4.6M293.82,328.87h4.6M293.82,337.57h4.6M294.52,329.96h4.6M294.52,338.16h4.6M295.22,329.13h4.6M295.22,338.51h4.6M295.91,330.34h4.6M295.91,338.48h4.6M296.61,330.42h4.6M296.61,337.85h4.6M297.31,329.79h4.6M297.31,338.01h4.6M298.01,331.08h4.6M298.01,338.85h4.6M298.71,330.12h4.6M298.71,338.46h4.6M299.41,331.01h4.6M299.41,338.71h4.6M300.11,331.15h4.6M300.11,339.36h4.6M300.81,330.79h4.6M300.81,339.10h4.6M301.51,330.75h4.6M301.51,339.81h4.6M302.21,330.05h4.6M302.21,339.09h4.6M302.91,330.93h4.6M302.91,339.21h4.6M303.61,329.93h4.6M303.61,337.76h4.6M304.31,329.11h4.6M304.31,337.10h4.6M305.00,329.35h4.6M305.00,338.66h4.6M305.70,328.48h4.6M305.70,337.72h4.6M306.40,328.80h4.6M306.40,337.79h4.6M307.10,327.33h4.6M307.10,337.46h4.6M307.80,327.80h4.6M307.80,337.58h4.6M308.50,328.61h4.6M308.50,337.17h4.6M309.20,327.10h4.6M309.20,336.84h4.6" stroke="#3a76c0" stroke-width="0.7" fill="none"/>
<polyline points="32.5,315.71 33.5,313.72 34.5,311.77 35.5,309.87 36.5,308.01 37.5,306.19 38.5,304.42 39.5,302.70 40.5,301.03 41.5,299.40 42.5,297.82 43.5,296.29 44.5,294.81 45.5,293.37 46.5,291.99 47.5,290.66 48.5,289.39 49.5,288.16 50.5,286.99 51.5,285.87 52.5,284.81 53.5,283.80 54.5,282.84 55.5,281.95 56.5,281.11 57.5,280.32 58.5,279.60 59.5,278.93 60.5,278.33 61.5,277.78 62.5,277.30 63.5,276.87 64.5,276.51 65.5,276.21 66.5,275.97 67.5,275.80 68.5,275.69 69.5,275.65 70.5,275.67 71.5,275.75 72.5,275.90 73.5,276.11 74.5,276.38 75.5,276.71 76.5,277.08 77.5,277.52 78.5,278.00 79.5,278.52 80.5,279.10 81.5,279.71 82.5,280.37 83.5,281.07 84.5,281.80 85.5,282.57 86.5,283.37 87.5,284.21 88.5,285.07 89.5,285.95 90.5,286.86 91.5,287.79 92.5,288.74 93.5,289.71 94.5,290.70 95.5,291.70 96.5,292.70 97.5,293.72 98.5,294.75 99.5,295.77 100.5,296.81 101.5,297.84 102.5,298.87 103.5,299.89 104.5,300.91 105.5,301.92 106.5,302.92 107.5,303.91 108.5,304.90 109.5,305.87 110.5,306.82 111.5,307.77 112.5,308.71 113.5,309.63 114.5,310.54 115.5,311.43 116.5,312.31 117.5,313.18 118.5,314.03 119.5,314.87 120.5,315.69 121.5,316.49 122.5,317.28 123.5,318.05 124.5,318.81 125.5,319.54 126.5,320.26 127.5,320.96 128.5,321.64 129.5,322.30 130.5,322.94 131.5,323.56 132.5,324.16 133.5,324.74 134.5,325.29 135.5,325.82 136.5,326.34 137.5,326.82 138.5,327.29 139.5,327.73 140.5,328.15 141.5,328.54 142.5,328.91 143.5,329.25 144.5,329.58 145.5,329.88 146.5,330.16 147.5,330.42 148.5,330.67 149.5,330.89 150.5,331.10 151.5,331.29 152.5,331.46 153.5,331.62 154.5,331.76 155.5,331.89 156.5,332.01 157.5,332.11 158.5,332.20 159.5,332.28 160.5,332.35 161.5,332.41 162.5,332.46 163.5,332.51 164.5,332.54 165.5,332.57 166.5,332.59 167.5,332.61 168.5,332.62 169.5,332.63 170.5,332.63 171.5,332.63 172.5,332.63 173.5,332.63 174.5,332.63 175.5,332.63 176.5,332.63 177.5,332.63 178.5,332.63 179.5,332.64 180.5,332.64 181.5,332.64 182.5,332.65 183.5,332.65 184.5,332.66 185.5,332.66 186.5,332.67 187.5,332.67 188.5,332.68 189.5,332.69 190.5,332.70 191.5,332.71 192.5,332.72 193.5,332.73 194.5,332.74 195.5,332.75 196.5,332.76 197.5,332.77 198.5,332.79 199.5,332.80 200.5,332.81 201.5,332.83 202.5,332.84 203.5,332.85 204.5,332.87 205.5,332.88 206.5,332.90 207.5,332.92 208.5,332.93 209.5,332.95 210.5,332.97 211.5,332.98 212.5,333.00 213.5,333.02 214.5,333.04 215.5,333.05 216.5,333.07 217.5,333.09 218.5,333.11 219.5,333.13 220.5,333.15 221.5,333.17 222.5,333.19 223.5,333.21 224.5,333.23 225.5,333.25 226.5,333.27 227.5,333.29 228.5,333.31 229.5,333.33 230.5,333.35 231.5,333.37 232.5,333.39 233.5,333.41 234.5,333.43 235.5,333.45 236.5,333.47 237.5,333.49 238.5,333.51 239.5,333.53 240.5,333.55 241.5,333.57 242.5,333.59 243.5,333.61 244.5,333.63 245.5,333.65 246.5,333.67 247.5,333.69 248.5,333.71 249.5,333.73 250.5,333.75 251.5,333.77 252.5,333.79 253.5,333.81 254.5,333.82 255.5,333.84 256.5,333.86 257.5,333.88 258.5,333.89 259.5,333.91 260.5,333.93 261.5,333.94 262.5,333.96 263.5,333.97 264.5,333.99 265.5,334.00 266.5,334.02 267.5,334.03 268.5,334.05 269.5,334.06 270.5,334.07 271.5,334.08 272.5,334.10 273.5,334.11 274.5,334.12 275.5,334.13 276.5,334.14 277.5,334.15 278.5,334.16 279.5,334.16 280.5,334.17 281.5,334.18 282.5,334.19 283.5,334.19 284.5,334.20 285.5,334.20 286.5,334.21 287.5,334.21 288.5,334.21 289.5,334.22 290.5,334.22 291.5,334.22 292.5,334.22 293.5,334.22 294.5,334.22 295.5,334.21 296.5,334.21 297.5,334.21 298.5,334.20 299.5,334.20 300.5,334.19 301.5,334.19 302.5,334.18 303.5,334.17 304.5,334.16 305.5,334.15 306.5,334.14 307.5,334.13 308.5,334.12 309.5,334.10 310.5,334.09 311.5,334.07" fill="none" stroke="#ff0000" stroke-width="2.5" stroke-linecap="butt" stroke-linejoin="round"/>
<polyline points="32.5,315.64 33.5,314.47 34.5,313.23 35.5,311.94 36.5,310.59 37.5,309.19 38.5,307.75 39.5,306.26 40.5,304.70 41.5,302.95 42.5,301.06 43.5,299.11 44.5,297.19 45.5,295.39 46.5,293.79 47.5,292.46 48.5,291.26 49.5,290.16 50.5,289.15 51.5,288.23 52.5,287.38 53.5,286.59 54.5,285.85 55.5,285.18 56.5,284.57 57.5,284.04 58.5,283.52 59.5,283.07 60.5,282.72 61.5,282.50 62.5,282.33 63.5,282.19 64.5,282.11 65.5,282.11 66.5,282.20 67.5,282.35 68.5,282.55 69.5,282.78 70.5,283.04 71.5,283.41 72.5,283.88 73.5,284.42 74.5,285.00 75.5,285.61 76.5,286.30 77.5,287.06 78.5,287.88 79.5,288.75 80.5,289.66 81.5,290.64 82.5,291.68 83.5,292.78 84.5,293.92 85.5,295.09 86.5,296.30 87.5,297.56 88.5,298.88 89.5,300.27 90.5,301.75 91.5,303.36 92.5,305.05 93.5,306.82 94.5,308.61 95.5,310.41 96.5,312.33 97.5,314.30 98.5,316.24 99.5,318.06 100.5,319.69 101.5,321.18 102.5,322.58 103.5,323.94 104.5,325.30 105.5,326.70 106.5,328.05 107.5,329.39 108.5,330.76 109.5,332.22 110.5,333.85 111.5,335.74 112.5,337.59 113.5,339.13 114.5,340.50 115.5,341.77 116.5,342.97 117.5,344.11 118.5,345.23 119.5,346.34 120.5,347.47 121.5,348.62 122.5,349.75 123.5,350.81 124.5,351.77 125.5,352.60 126.5,353.36 127.5,354.05 128.5,354.68 129.5,355.25 130.5,355.74 131.5,356.19 132.5,356.60 133.5,356.99 134.5,357.35 135.5,357.70 136.5,358.03 137.5,358.36 138.5,358.69 139.5,359.03 140.5,359.37 141.5,359.72 142.5,360.06 143.5,360.39 144.5,360.72 145.5,361.05 146.5,361.37 147.5,361.70 148.5,362.02 149.5,362.34 150.5,362.66 151.5,362.98 152.5,363.30 153.5,363.62 154.5,363.94 155.5,364.27 156.5,364.61 157.5,364.98 158.5,365.35 159.5,365.72 160.5,366.08 161.5,366.42 162.5,366.73 163.5,367.00 164.5,367.21 165.5,367.38 166.5,367.53 167.5,367.67 168.5,367.81 169.5,367.93 170.5,368.05 171.5,368.16 172.5,368.27 173.5,368.37 174.5,368.45 175.5,368.53 176.5,368.61 177.5,368.67 178.5,368.73 179.5,368.78 180.5,368.82 181.5,368.86 182.5,368.90 183.5,368.94 184.5,368.98 185.5,369.01 186.5,369.05 187.5,369.08 188.5,369.11 189.5,369.14 190.5,369.17 191.5,369.19 192.5,369.21 193.5,369.23 194.5,369.25 195.5,369.27 196.5,369.28 197.5,369.29 198.5,369.30 199.5,369.30 200.5,369.30 201.5,369.30 202.5,369.30 203.5,369.30 204.5,369.30 205.5,369.30 206.5,369.30 207.5,369.30 208.5,369.30 209.5,369.30 210.5,369.30 211.5,369.30 212.5,369.30 213.5,369.30 214.5,369.30 215.5,369.30 216.5,369.30 217.5,369.30 218.5,369.30 219.5,369.30 220.5,369.30 221.5,369.30 222.5,369.30 223.5,369.30 224.5,369.30 225.5,369.30 226.5,369.30 227.5,369.30 228.5,369.30 229.5,369.30 230.5,369.30 231.5,369.30 232.5,369.30 233.5,369.30 234.5,369.30 235.5,369.30 236.5,369.30 237.5,369.30 238.5,369.30 239.5,369.30 240.5,369.30 241.5,369.30 242.5,369.30 243.5,369.30 244.5,369.30 245.5,369.30 246.5,369.30 247.5,369.30 248.5,369.30 249.5,369.30 250.5,369.30 251.5,369.30 252.5,369.30 253.5,369.30 254.5,369.30 255.5,369.30 256.5,369.30 257.5,369.30 258.5,369.30 259.5,369.30 260.5,369.30 261.5,369.30 262.5,369.30 263.5,369.30 264.5,369.30 265.5,369.30 266.5,369.30 267.5,369.30 268.5,369.30 269.5,369.30 270.5,369.30 271.5,369.30 272.5,369.30 273.5,369.30 274.5,369.30 275.5,369.30 276.5,369.30 277.5,369.30 278.5,369.30 279.5,369.30 280.5,369.30 281.5,369.30 282.5,369.30 283.5,369.30 284.5,369.30 285.5,369.30 286.5,369.30 287.5,369.30 288.5,369.30 289.5,369.30 290.5,369.30 291.5,369.30 292.5,369.30 293.5,369.30 294.5,369.30 295.5,369.30 296.5,369.30 297.5,369.30 298.5,369.30 299.5,369.30 300.5,369.30 301.5,369.30 302.5,369.30 303.5,369.30 304.5,369.30 305.5,369.30 306.5,369.30 307.5,369.30 308.5,369.30 309.5,369.30 310.5,369.30 311.5,369.30" fill="none" stroke="#1cff1c" stroke-width="1.6" stroke-dasharray="4.4 3.9" stroke-linecap="butt" stroke-linejoin="round"/>
<polyline points="32.5,369.57 33.5,369.50 34.5,369.43 35.5,369.37 36.5,369.30 37.5,369.24 38.5,369.17 39.5,369.10 40.5,369.04 41.5,368.97 42.5,368.91 43.5,368.84 44.5,368.78 45.5,368.72 46.5,368.65 47.5,368.59 48.5,368.52 49.5,368.46 50.5,368.40 51.5,368.33 52.5,368.27 53.5,368.21 54.5,368.14 55.5,368.08 56.5,368.02 57.5,367.96 58.5,367.89 59.5,367.83 60.5,367.77 61.5,367.71 62.5,367.64 63.5,367.58 64.5,367.51 65.5,367.45 66.5,367.39 67.5,367.32 68.5,367.26 69.5,367.20 70.5,367.13 71.5,367.07 72.5,367.01 73.5,366.95 74.5,366.89 75.5,366.83 76.5,366.78 77.5,366.73 78.5,366.67 79.5,366.62 80.5,366.58 81.5,366.53 82.5,366.47 83.5,366.42 84.5,366.37 85.5,366.31 86.5,366.26 87.5,366.21 88.5,366.16 89.5,366.12 90.5,366.08 91.5,366.05 92.5,366.03 93.5,366.01 94.5,366.00 95.5,366.00 96.5,366.01 97.5,366.02 98.5,366.03 99.5,366.05 100.5,366.08 101.5,366.10 102.5,366.13 103.5,366.16 104.5,366.20 105.5,366.23 106.5,366.27 107.5,366.31 108.5,366.34 109.5,366.38 110.5,366.42 111.5,366.46 112.5,366.51 113.5,366.56 114.5,366.61 115.5,366.67 116.5,366.74 117.5,366.80 118.5,366.87 119.5,366.93 120.5,367.00 121.5,367.07 122.5,367.14 123.5,367.21 124.5,367.28 125.5,367.34 126.5,367.41 127.5,367.47 128.5,367.52 129.5,367.58 130.5,367.62 131.5,367.67 132.5,367.72 133.5,367.77 134.5,367.82 135.5,367.87 136.5,367.92 137.5,367.97 138.5,368.01 139.5,368.06 140.5,368.11 141.5,368.15 142.5,368.20 143.5,368.24 144.5,368.29 145.5,368.33 146.5,368.37 147.5,368.41 148.5,368.45 149.5,368.49 150.5,368.53 151.5,368.56 152.5,368.60 153.5,368.63 154.5,368.66 155.5,368.69 156.5,368.72 157.5,368.74 158.5,368.77 159.5,368.79 160.5,368.81 161.5,368.83 162.5,368.85 163.5,368.87 164.5,368.89 165.5,368.91 166.5,368.92 167.5,368.94 168.5,368.96 169.5,368.98 170.5,369.00 171.5,369.01 172.5,369.03 173.5,369.05 174.5,369.06 175.5,369.08 176.5,369.10 177.5,369.11 178.5,369.13 179.5,369.14 180.5,369.15 181.5,369.17 182.5,369.18 183.5,369.19 184.5,369.20 185.5,369.22 186.5,369.23 187.5,369.24 188.5,369.25 189.5,369.25 190.5,369.26 191.5,369.27 192.5,369.28 193.5,369.28 194.5,369.29 195.5,369.29 196.5,369.29 197.5,369.30 198.5,369.30 199.5,369.30 200.5,369.30 201.5,369.30 202.5,369.30 203.5,369.30 204.5,369.30 205.5,369.30 206.5,369.30 207.5,369.30 208.5,369.30 209.5,369.30 210.5,369.30 211.5,369.30 212.5,369.30 213.5,369.30 214.5,369.30 215.5,369.30 216.5,369.30 217.5,369.30 218.5,369.30 219.5,369.30 220.5,369.30 221.5,369.30 222.5,369.30 223.5,369.30 224.5,369.30 225.5,369.30 226.5,369.30 227.5,369.30 228.5,369.30 229.5,369.30 230.5,369.30 231.5,369.30 232.5,369.30 233.5,369.30 234.5,369.30 235.5,369.30 236.5,369.30 237.5,369.30 238.5,369.30 239.5,369.30 240.5,369.30 241.5,369.30 242.5,369.30 243.5,369.30 244.5,369.30 245.5,369.30 246.5,369.30 247.5,369.30 248.5,369.30 249.5,369.30 250.5,369.30 251.5,369.30 252.5,369.30 253.5,369.30 254.5,369.30 255.5,369.30 256.5,369.30 257.5,369.30 258.5,369.30 259.5,369.30 260.5,369.30 261.5,369.30 262.5,369.30 263.5,369.30 264.5,369.30 265.5,369.30 266.5,369.30 267.5,369.30 268.5,369.30 269.5,369.30 270.5,369.30 271.5,369.30 272.5,369.30 273.5,369.30 274.5,369.30 275.5,369.30 276.5,369.30 277.5,369.30 278.5,369.30 279.5,369.30 280.5,369.30 281.5,369.30 282.5,369.30 283.5,369.30 284.5,369.30 285.5,369.30 286.5,369.30 287.5,369.30 288.5,369.30 289.5,369.30 290.5,369.30 291.5,369.30 292.5,369.30 293.5,369.30 294.5,369.30 295.5,369.30 296.5,369.30 297.5,369.30 298.5,369.30 299.5,369.30 300.5,369.30 301.5,369.30 302.5,369.30 303.5,369.30 304.5,369.30 305.5,369.30 306.5,369.30 307.5,369.30 308.5,369.30 309.5,369.30 310.5,369.30 311.5,369.30" fill="none" stroke="#000000" stroke-width="1.3" stroke-dasharray="1 1" stroke-linecap="butt" stroke-linejoin="round"/>
<polyline points="32.5,369.60 33.5,369.59 34.5,369.57 35.5,369.55 36.5,369.52 37.5,369.48 38.5,369.43 39.5,369.38 40.5,369.32 41.5,369.26 42.5,369.20 43.5,369.13 44.5,369.05 45.5,368.98 46.5,368.90 47.5,368.81 48.5,368.73 49.5,368.64 50.5,368.55 51.5,368.45 52.5,368.33 53.5,368.19 54.5,368.04 55.5,367.87 56.5,367.70 57.5,367.51 58.5,367.31 59.5,367.11 60.5,366.89 61.5,366.64 62.5,366.36 63.5,366.05 64.5,365.73 65.5,365.38 66.5,365.03 67.5,364.68 68.5,364.32 69.5,363.97 70.5,363.63 71.5,363.29 72.5,362.95 73.5,362.60 74.5,362.25 75.5,361.89 76.5,361.53 77.5,361.16 78.5,360.78 79.5,360.40 80.5,360.00 81.5,359.59 82.5,359.16 83.5,358.73 84.5,358.29 85.5,357.84 86.5,357.38 87.5,356.93 88.5,356.47 89.5,356.02 90.5,355.58 91.5,355.13 92.5,354.68 93.5,354.23 94.5,353.78 95.5,353.32 96.5,352.87 97.5,352.42 98.5,351.97 99.5,351.52 100.5,351.08 101.5,350.63 102.5,350.18 103.5,349.73 104.5,349.28 105.5,348.83 106.5,348.39 107.5,347.95 108.5,347.52 109.5,347.11 110.5,346.70 111.5,346.30 112.5,345.90 113.5,345.51 114.5,345.13 115.5,344.75 116.5,344.38 117.5,344.01 118.5,343.64 119.5,343.28 120.5,342.92 121.5,342.56 122.5,342.20 123.5,341.84 124.5,341.49 125.5,341.14 126.5,340.80 127.5,340.47 128.5,340.15 129.5,339.85 130.5,339.56 131.5,339.28 132.5,339.00 133.5,338.74 134.5,338.48 135.5,338.23 136.5,337.98 137.5,337.75 138.5,337.52 139.5,337.31 140.5,337.10 141.5,336.88 142.5,336.67 143.5,336.47 144.5,336.27 145.5,336.08 146.5,335.90 147.5,335.73 148.5,335.58 149.5,335.46 150.5,335.35 151.5,335.25 152.5,335.15 153.5,335.05 154.5,334.96 155.5,334.87 156.5,334.79 157.5,334.71 158.5,334.64 159.5,334.56 160.5,334.49 161.5,334.43 162.5,334.36 163.5,334.31 164.5,334.25 165.5,334.20 166.5,334.15 167.5,334.10 168.5,334.06 169.5,334.02 170.5,333.98 171.5,333.94 172.5,333.91 173.5,333.87 174.5,333.84 175.5,333.80 176.5,333.77 177.5,333.73 178.5,333.70 179.5,333.67 180.5,333.64 181.5,333.62 182.5,333.59 183.5,333.57 184.5,333.55 185.5,333.54 186.5,333.52 187.5,333.51 188.5,333.50 189.5,333.50 190.5,333.50 191.5,333.50 192.5,333.50 193.5,333.50 194.5,333.50 195.5,333.50 196.5,333.50 197.5,333.50 198.5,333.50 199.5,333.50 200.5,333.50 201.5,333.50 202.5,333.51 203.5,333.51 204.5,333.51 205.5,333.51 206.5,333.51 207.5,333.51 208.5,333.51 209.5,333.51 210.5,333.51 211.5,333.52 212.5,333.52 213.5,333.52 214.5,333.52 215.5,333.52 216.5,333.52 217.5,333.52 218.5,333.53 219.5,333.53 220.5,333.53 221.5,333.53 222.5,333.53 223.5,333.54 224.5,333.54 225.5,333.54 226.5,333.54 227.5,333.54 228.5,333.55 229.5,333.55 230.5,333.55 231.5,333.55 232.5,333.56 233.5,333.56 234.5,333.56 235.5,333.56 236.5,333.56 237.5,333.57 238.5,333.57 239.5,333.57 240.5,333.57 241.5,333.58 242.5,333.58 243.5,333.58 244.5,333.59 245.5,333.59 246.5,333.59 247.5,333.59 248.5,333.60 249.5,333.60 250.5,333.60 251.5,333.60 252.5,333.61 253.5,333.61 254.5,333.61 255.5,333.62 256.5,333.62 257.5,333.63 258.5,333.63 259.5,333.64 260.5,333.64 261.5,333.65 262.5,333.65 263.5,333.66 264.5,333.66 265.5,333.67 266.5,333.68 267.5,333.68 268.5,333.69 269.5,333.70 270.5,333.70 271.5,333.71 272.5,333.72 273.5,333.73 274.5,333.73 275.5,333.74 276.5,333.75 277.5,333.76 278.5,333.77 279.5,333.77 280.5,333.78 281.5,333.79 282.5,333.80 283.5,333.81 284.5,333.82 285.5,333.83 286.5,333.84 287.5,333.85 288.5,333.86 289.5,333.87 290.5,333.88 291.5,333.89 292.5,333.90 293.5,333.91 294.5,333.92 295.5,333.93 296.5,333.94 297.5,333.95 298.5,333.96 299.5,333.97 300.5,333.98 301.5,333.99 302.5,334.00 303.5,334.02 304.5,334.03 305.5,334.04 306.5,334.05 307.5,334.06 308.5,334.07 309.5,334.08 310.5,334.09 311.5,334.11" fill="none" stroke="#ff30ff" stroke-width="1.5" stroke-dasharray="4 1.3 1.8 1.3" stroke-linecap="butt" stroke-linejoin="round"/>
</g>
<rect x="180.5" y="242.5" width="125" height="73" fill="#fff" stroke="#555" stroke-width="1"/>
<line x1="182.2" x2="203.6" y1="250.2" y2="250.2" stroke="#a9c4e6" stroke-width="1.4"/>
<path d="M193,244.3V255.4M190.6,244.3h4.8M190.6,255.4h4.8" stroke="#4f86c6" stroke-width="0.9" fill="none"/>
<line x1="182.2" x2="203.6" y1="264.8" y2="264.8" stroke="#ff0000" stroke-width="2"/>
<line x1="182.2" x2="203.6" y1="279.2" y2="279.2" stroke="#1cff1c" stroke-width="1.6" stroke-dasharray="4.4 3.9"/>
<line x1="182.2" x2="203.6" y1="293.6" y2="293.6" stroke="#000000" stroke-width="1.2" stroke-dasharray="1 1"/>
<line x1="182.2" x2="203.6" y1="308" y2="308" stroke="#ff30ff" stroke-width="1.3" stroke-dasharray="4 1.3 1.8 1.3"/>
<text x="205" y="255.0" font-size="11.15" fill="#000">Data: Mean<tspan dx="2.6" font-size="13.5">±</tspan><tspan dx="3.6">SEM</tspan></text>
<text x="205" y="269.0" font-size="11.15" fill="#000">Model: S+R</text>
<text x="205" y="283.6" font-size="11.15" fill="#000">Model: S</text>
<text x="205" y="298.0" font-size="11.15" fill="#000">Model: Q</text>
<text x="205" y="312.5" font-size="11.15" fill="#000">Model: R</text>
<rect x="421.20" y="323.35" width="21.4" height="73.15" fill="#3d7cc4" stroke="#1a1a1a" stroke-width="0.6"/>
<rect x="448.40" y="323.60" width="21.4" height="72.90" fill="#da5a26" stroke="#1a1a1a" stroke-width="0.6"/>
<text x="431.90" y="321.05" font-size="9.8" text-anchor="middle" fill="#000">11.43</text>
<text x="459.10" y="321.30" font-size="9.8" text-anchor="middle" fill="#000">11.39</text>
<rect x="515.00" y="304.21" width="21.4" height="92.29" fill="#3d7cc4" stroke="#1a1a1a" stroke-width="0.6"/>
<rect x="542.20" y="304.47" width="21.4" height="92.03" fill="#da5a26" stroke="#1a1a1a" stroke-width="0.6"/>
<text x="525.70" y="301.91" font-size="9.8" text-anchor="middle" fill="#000">14.42</text>
<text x="552.90" y="302.17" font-size="9.8" text-anchor="middle" fill="#000">14.38</text>
<rect x="608.80" y="258.52" width="21.4" height="137.98" fill="#3d7cc4" stroke="#1a1a1a" stroke-width="0.6"/>
<rect x="636.00" y="258.71" width="21.4" height="137.79" fill="#da5a26" stroke="#1a1a1a" stroke-width="0.6"/>
<text x="619.50" y="256.22" font-size="9.8" text-anchor="middle" fill="#000">21.56</text>
<text x="646.70" y="256.41" font-size="9.8" text-anchor="middle" fill="#000">21.53</text>
<path d="M400.5,397V236M400,396.5H680M679.5,397V236" stroke="#555" stroke-width="1" fill="none"/>
<path d="M400,236.5H680" stroke="#666" stroke-width="1" fill="none"/>
<path d="M445.50,396.5v-2.8M445.50,236v3.3M539.30,396.5v-2.8M539.30,236v3.3M633.10,396.5v-2.8M633.10,236v3.3M400.5,396.50h2.8M679.5,396.50h-2.8M400.5,364.50h2.8M679.5,364.50h-2.8M400.5,332.50h2.8M679.5,332.50h-2.8M400.5,300.50h2.8M679.5,300.50h-2.8M400.5,268.50h2.8M679.5,268.50h-2.8M400.5,236.50h2.8M679.5,236.50h-2.8" stroke="#444" stroke-width="0.8" fill="none"/>
<text x="397.10" y="399.80" font-size="7" text-anchor="end" fill="#262626">0</text>
<text x="397.10" y="367.80" font-size="7" text-anchor="end" fill="#262626">5</text>
<text x="397.10" y="335.80" font-size="7" text-anchor="end" fill="#262626">10</text>
<text x="397.10" y="303.80" font-size="7" text-anchor="end" fill="#262626">15</text>
<text x="397.10" y="271.80" font-size="7" text-anchor="end" fill="#262626">20</text>
<text x="397.10" y="239.80" font-size="7" text-anchor="end" fill="#262626">25</text>
<text x="445.50" y="407.2" font-size="7.4" text-anchor="middle" fill="#262626">0.032 <tspan font-family="Liberation Serif" font-style="italic">μ</tspan>M</text>
<text x="539.30" y="407.2" font-size="7.4" text-anchor="middle" fill="#262626">0.32 <tspan font-family="Liberation Serif" font-style="italic">μ</tspan>M</text>
<text x="633.10" y="407.2" font-size="7.4" text-anchor="middle" fill="#262626">3.2 <tspan font-family="Liberation Serif" font-style="italic">μ</tspan>M</text>
<rect x="405.5" y="242.5" width="89" height="30" fill="#fff" stroke="#555" stroke-width="1"/>
<rect x="408" y="244.5" width="20.8" height="10.8" fill="#3d7cc4" stroke="#1a1a1a" stroke-width="0.6"/>
<rect x="408" y="258.8" width="20.8" height="10.5" fill="#da5a26" stroke="#1a1a1a" stroke-width="0.6"/>
<text x="430.5" y="254.8" font-size="10.7" fill="#000">2 pop model</text>
<text x="430.5" y="268.9" font-size="10.7" fill="#000">3 pop model</text>
<text x="148.6" y="9.1" font-size="11.2" font-weight="bold" fill="#000">0.032<tspan font-family="Liberation Serif" font-style="italic" font-weight="normal" dx="1.6">μ</tspan><tspan dx="1.2">M</tspan></text>
<text x="519.5" y="9.1" font-size="11.2" font-weight="bold" fill="#000">0.32<tspan font-family="Liberation Serif" font-style="italic" font-weight="normal" dx="1.6">μ</tspan><tspan dx="1.2">M</tspan></text>
<text x="155.3" y="231.2" font-size="11.2" font-weight="bold" fill="#000">3.2<tspan font-family="Liberation Serif" font-style="italic" font-weight="normal" dx="1.6">μ</tspan><tspan dx="1.2">M</tspan></text>
<text x="0" y="11.3" font-size="12.4" font-weight="bold" fill="#000">(a)</text>
<text x="367.8" y="11.4" font-size="12.4" font-weight="bold" fill="#000">(b)</text>
<text x="0.2" y="227.6" font-size="12.4" font-weight="bold" fill="#000">(c)</text>
<text x="371.2" y="227.6" font-size="12.4" font-weight="bold" fill="#000">(d)</text>
<text x="172.2" y="197.8" font-size="11.3" text-anchor="middle" fill="#000">Time (hr)</text>
<text x="540" y="197.8" font-size="11.3" text-anchor="middle" fill="#000">Time (hr)</text>
<text x="172.6" y="420.2" font-size="11.3" text-anchor="middle" fill="#000">Time (hr)</text>
<text x="539.6" y="420.6" font-size="11.1" text-anchor="middle" fill="#000">Dose</text>
<text transform="translate(17,93.2) rotate(-90)" x="0" y="0" font-size="11.4" text-anchor="middle" fill="#000">Normalized Cell Count</text>
<text transform="translate(382.8,93.4) rotate(-90)" x="0" y="0" font-size="11.4" text-anchor="middle" fill="#000">Normalized Cell Count</text>
<text transform="translate(12.7,316.1) rotate(-90)" x="0" y="0" font-size="11.4" text-anchor="middle" fill="#000">Normalized Cell Count</text>
<text transform="translate(384.7,315.6) rotate(-90)" x="0" y="0" font-size="11.4" text-anchor="middle" fill="#000">Sum of Relative Absolute Error</text>
</g></svg></body></html>
